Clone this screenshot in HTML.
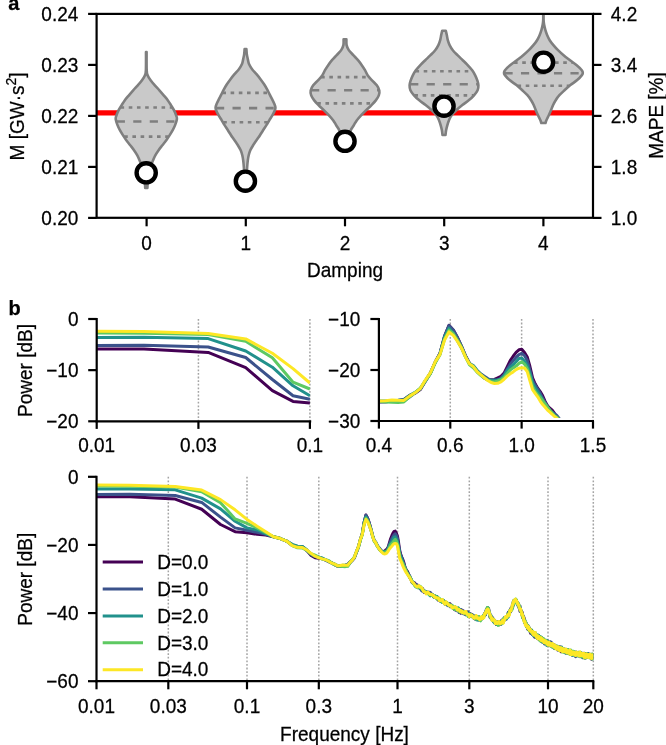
<!DOCTYPE html><html><head><meta charset="utf-8"><style>html,body{margin:0;padding:0;background:#fff;width:666px;height:745px;overflow:hidden}svg{display:block;will-change:transform}text{stroke:#000;stroke-width:0.25px;paint-order:stroke}</style></head><body><svg width="666" height="745" viewBox="0 0 666 745" font-family='"Liberation Sans", sans-serif' fill="#000"><defs><clipPath id="clipA"><rect x="96.6" y="13.9" width="496.4" height="203.9"/></clipPath></defs>
<line x1="96.6" y1="112.9" x2="593" y2="112.9" stroke="#ff0000" stroke-width="5.3"/>
<g clip-path="url(#clipA)">
<path d="M146.6,52 C146.62,55 146.53,66.13 146.7,70 C146.87,73.87 146.95,73.5 147.6,75.2 C148.25,76.9 149.4,78.52 150.6,80.2 C151.8,81.88 153.33,83.62 154.8,85.3 C156.27,86.98 157.92,88.63 159.4,90.3 C160.88,91.97 162.28,93.62 163.7,95.3 C165.12,96.98 166.67,98.72 167.9,100.4 C169.13,102.08 170.07,103.73 171.1,105.4 C172.13,107.07 173.25,108.72 174.1,110.4 C174.95,112.08 175.73,114.07 176.2,115.5 C176.67,116.93 177.08,117.4 176.9,119 C176.72,120.6 175.8,123.25 175.1,125.1 C174.4,126.95 173.6,128.43 172.7,130.1 C171.8,131.77 170.77,133.42 169.7,135.1 C168.63,136.78 167.52,138.52 166.3,140.2 C165.08,141.88 163.68,143.53 162.4,145.2 C161.12,146.87 159.78,148.52 158.6,150.2 C157.42,151.88 156.22,153.62 155.3,155.3 C154.38,156.98 153.88,158.52 153.1,160.3 C152.32,162.08 151.3,164.05 150.6,166 C149.9,167.95 149.37,169.67 148.9,172 C148.43,174.33 148.05,177.33 147.8,180 C147.55,182.67 147.47,186.67 147.4,188 L145.2,188 C145.13,186.67 145.05,182.67 144.8,180 C144.55,177.33 144.17,174.33 143.7,172 C143.23,169.67 142.7,167.95 142,166 C141.3,164.05 140.28,162.08 139.5,160.3 C138.72,158.52 138.22,156.98 137.3,155.3 C136.38,153.62 135.18,151.88 134,150.2 C132.82,148.52 131.48,146.87 130.2,145.2 C128.92,143.53 127.52,141.88 126.3,140.2 C125.08,138.52 123.97,136.78 122.9,135.1 C121.83,133.42 120.8,131.77 119.9,130.1 C119,128.43 118.2,126.95 117.5,125.1 C116.8,123.25 115.88,120.6 115.7,119 C115.52,117.4 115.93,116.93 116.4,115.5 C116.87,114.07 117.65,112.08 118.5,110.4 C119.35,108.72 120.47,107.07 121.5,105.4 C122.53,103.73 123.47,102.08 124.7,100.4 C125.93,98.72 127.48,96.98 128.9,95.3 C130.32,93.62 131.72,91.97 133.2,90.3 C134.68,88.63 136.33,86.98 137.8,85.3 C139.27,83.62 140.8,81.88 142,80.2 C143.2,78.52 144.35,76.9 145,75.2 C145.65,73.5 145.73,73.87 145.9,70 C146.07,66.13 145.98,55 146,52 Z" fill="#c9c9c9" stroke="#7f7f7f" stroke-width="2.6" stroke-linejoin="round"/>
<line x1="120.54" y1="107.5" x2="172.06" y2="107.5" stroke="#7f7f7f" stroke-width="2.6" stroke-dasharray="3.6 4.6"/>
<line x1="116.74" y1="121.5" x2="175.86" y2="121.5" stroke="#7f7f7f" stroke-width="2.6" stroke-dasharray="8.2 8.3"/>
<line x1="124.2" y1="136.6" x2="168.4" y2="136.6" stroke="#7f7f7f" stroke-width="2.6" stroke-dasharray="3.6 4.6"/>
<path d="M246.4,49 C246.47,49.85 246.57,52.42 246.8,54.1 C247.03,55.78 247.43,57.43 247.8,59.1 C248.17,60.77 248.28,62.42 249,64.1 C249.72,65.78 250.85,67.52 252.1,69.2 C253.35,70.88 255.1,72.53 256.5,74.2 C257.9,75.87 259.23,77.52 260.5,79.2 C261.77,80.88 263,82.62 264.1,84.3 C265.2,85.98 266.18,87.63 267.1,89.3 C268.02,90.97 268.75,92.62 269.6,94.3 C270.45,95.98 271.37,97.72 272.2,99.4 C273.03,101.08 274.07,103.07 274.6,104.4 C275.13,105.73 275.33,106.47 275.4,107.4 C275.47,108.33 275.48,108.72 275,110 C274.52,111.28 273.43,113.42 272.5,115.1 C271.57,116.78 270.42,118.43 269.4,120.1 C268.38,121.77 267.45,123.42 266.4,125.1 C265.35,126.78 264.17,128.52 263.1,130.2 C262.03,131.88 260.83,133.9 260,135.2 C259.17,136.5 258.68,137.17 258.1,138 C257.52,138.83 257.33,138.98 256.5,140.2 C255.67,141.42 254.13,143.62 253.1,145.3 C252.07,146.98 251.03,148.63 250.3,150.3 C249.57,151.97 249.12,153.62 248.7,155.3 C248.28,156.98 248.07,158.28 247.8,160.4 C247.53,162.52 247.28,165.07 247.1,168 C246.92,170.93 246.77,176.33 246.7,178 L244.3,178 C244.23,176.33 244.08,170.93 243.9,168 C243.72,165.07 243.47,162.52 243.2,160.4 C242.93,158.28 242.72,156.98 242.3,155.3 C241.88,153.62 241.43,151.97 240.7,150.3 C239.97,148.63 238.93,146.98 237.9,145.3 C236.87,143.62 235.33,141.42 234.5,140.2 C233.67,138.98 233.48,138.83 232.9,138 C232.32,137.17 231.83,136.5 231,135.2 C230.17,133.9 228.97,131.88 227.9,130.2 C226.83,128.52 225.65,126.78 224.6,125.1 C223.55,123.42 222.62,121.77 221.6,120.1 C220.58,118.43 219.43,116.78 218.5,115.1 C217.57,113.42 216.48,111.28 216,110 C215.52,108.72 215.53,108.33 215.6,107.4 C215.67,106.47 215.87,105.73 216.4,104.4 C216.93,103.07 217.97,101.08 218.8,99.4 C219.63,97.72 220.55,95.98 221.4,94.3 C222.25,92.62 222.98,90.97 223.9,89.3 C224.82,87.63 225.8,85.98 226.9,84.3 C228,82.62 229.23,80.88 230.5,79.2 C231.77,77.52 233.1,75.87 234.5,74.2 C235.9,72.53 237.65,70.88 238.9,69.2 C240.15,67.52 241.28,65.78 242,64.1 C242.72,62.42 242.83,60.77 243.2,59.1 C243.57,57.43 243.97,55.78 244.2,54.1 C244.43,52.42 244.53,49.85 244.6,49 Z" fill="#c9c9c9" stroke="#7f7f7f" stroke-width="2.6" stroke-linejoin="round"/>
<line x1="222.4" y1="92.9" x2="268.6" y2="92.9" stroke="#7f7f7f" stroke-width="2.6" stroke-dasharray="3.6 4.6"/>
<line x1="216.01" y1="108.1" x2="274.99" y2="108.1" stroke="#7f7f7f" stroke-width="2.6" stroke-dasharray="8.2 8.3"/>
<line x1="223.22" y1="122.3" x2="267.78" y2="122.3" stroke="#7f7f7f" stroke-width="2.6" stroke-dasharray="3.6 4.6"/>
<path d="M346.4,39.3 C346.43,40.27 346.2,43.3 346.6,45.1 C347,46.9 347.68,48.43 348.8,50.1 C349.92,51.77 351.77,53.42 353.3,55.1 C354.83,56.78 356.58,58.52 358,60.2 C359.42,61.88 360.63,63.53 361.8,65.2 C362.97,66.87 364.03,68.52 365,70.2 C365.97,71.88 366.43,73.62 367.6,75.3 C368.77,76.98 370.47,78.63 372,80.3 C373.53,81.97 375.58,83.62 376.8,85.3 C378.02,86.98 378.97,88.72 379.3,90.4 C379.63,92.08 379.38,93.73 378.8,95.4 C378.22,97.07 377.05,98.75 375.8,100.4 C374.55,102.05 372.9,103.68 371.3,105.3 C369.7,106.92 367.87,108.47 366.2,110.1 C364.53,111.73 362.85,113.42 361.3,115.1 C359.75,116.78 358.15,118.52 356.9,120.2 C355.65,121.88 354.62,123.9 353.8,125.2 C352.98,126.5 352.5,127.17 352,128 C351.5,128.83 351.37,128.87 350.8,130.2 C350.23,131.53 349.17,134.03 348.6,136 C348.03,137.97 347.6,141 347.4,142 L342.6,142 C342.4,141 341.97,137.97 341.4,136 C340.83,134.03 339.77,131.53 339.2,130.2 C338.63,128.87 338.5,128.83 338,128 C337.5,127.17 337.02,126.5 336.2,125.2 C335.38,123.9 334.35,121.88 333.1,120.2 C331.85,118.52 330.25,116.78 328.7,115.1 C327.15,113.42 325.47,111.73 323.8,110.1 C322.13,108.47 320.3,106.92 318.7,105.3 C317.1,103.68 315.45,102.05 314.2,100.4 C312.95,98.75 311.78,97.07 311.2,95.4 C310.62,93.73 310.37,92.08 310.7,90.4 C311.03,88.72 311.98,86.98 313.2,85.3 C314.42,83.62 316.47,81.97 318,80.3 C319.53,78.63 321.23,76.98 322.4,75.3 C323.57,73.62 324.03,71.88 325,70.2 C325.97,68.52 327.03,66.87 328.2,65.2 C329.37,63.53 330.58,61.88 332,60.2 C333.42,58.52 335.17,56.78 336.7,55.1 C338.23,53.42 340.08,51.77 341.2,50.1 C342.32,48.43 343,46.9 343.4,45.1 C343.8,43.3 343.57,40.27 343.6,39.3 Z" fill="#c9c9c9" stroke="#7f7f7f" stroke-width="2.6" stroke-linejoin="round"/>
<line x1="321.12" y1="77.1" x2="368.88" y2="77.1" stroke="#7f7f7f" stroke-width="2.6" stroke-dasharray="3.6 4.6"/>
<line x1="311.05" y1="90.3" x2="378.95" y2="90.3" stroke="#7f7f7f" stroke-width="2.6" stroke-dasharray="8.2 8.3"/>
<line x1="317.26" y1="103.4" x2="372.74" y2="103.4" stroke="#7f7f7f" stroke-width="2.6" stroke-dasharray="3.6 4.6"/>
<path d="M445.8,30.8 C445.97,31.52 446.47,33.55 446.8,35.1 C447.13,36.65 447.33,38.43 447.8,40.1 C448.27,41.77 448.77,43.42 449.6,45.1 C450.43,46.78 451.48,48.52 452.8,50.2 C454.12,51.88 455.85,53.53 457.5,55.2 C459.15,56.87 461.08,58.63 462.7,60.2 C464.32,61.77 465.62,62.92 467.2,64.6 C468.78,66.28 470.87,68.52 472.2,70.3 C473.53,72.08 474.35,73.62 475.2,75.3 C476.05,76.98 476.77,78.75 477.3,80.4 C477.83,82.05 478.35,83.57 478.4,85.2 C478.45,86.83 478.33,88.52 477.6,90.2 C476.87,91.88 475.43,93.65 474,95.3 C472.57,96.95 470.93,98.47 469,100.1 C467.07,101.73 464.52,103.42 462.4,105.1 C460.28,106.78 458.1,108.52 456.3,110.2 C454.5,111.88 452.82,113.53 451.6,115.2 C450.38,116.87 449.72,118.52 449,120.2 C448.28,121.88 447.78,123.62 447.3,125.3 C446.82,126.98 446.4,128.68 446.1,130.3 C445.8,131.92 445.6,134.22 445.5,135 L442.5,135 C442.4,134.22 442.2,131.92 441.9,130.3 C441.6,128.68 441.18,126.98 440.7,125.3 C440.22,123.62 439.72,121.88 439,120.2 C438.28,118.52 437.62,116.87 436.4,115.2 C435.18,113.53 433.5,111.88 431.7,110.2 C429.9,108.52 427.72,106.78 425.6,105.1 C423.48,103.42 420.93,101.73 419,100.1 C417.07,98.47 415.43,96.95 414,95.3 C412.57,93.65 411.13,91.88 410.4,90.2 C409.67,88.52 409.55,86.83 409.6,85.2 C409.65,83.57 410.17,82.05 410.7,80.4 C411.23,78.75 411.95,76.98 412.8,75.3 C413.65,73.62 414.47,72.08 415.8,70.3 C417.13,68.52 419.22,66.28 420.8,64.6 C422.38,62.92 423.68,61.77 425.3,60.2 C426.92,58.63 428.85,56.87 430.5,55.2 C432.15,53.53 433.88,51.88 435.2,50.2 C436.52,48.52 437.57,46.78 438.4,45.1 C439.23,43.42 439.73,41.77 440.2,40.1 C440.67,38.43 440.87,36.65 441.2,35.1 C441.53,33.55 442.03,31.52 442.2,30.8 Z" fill="#c9c9c9" stroke="#7f7f7f" stroke-width="2.6" stroke-linejoin="round"/>
<line x1="415.5" y1="71.3" x2="472.5" y2="71.3" stroke="#7f7f7f" stroke-width="2.6" stroke-dasharray="3.6 4.6"/>
<line x1="410.13" y1="84.2" x2="477.87" y2="84.2" stroke="#7f7f7f" stroke-width="2.6" stroke-dasharray="8.2 8.3"/>
<line x1="414.4" y1="95.4" x2="473.6" y2="95.4" stroke="#7f7f7f" stroke-width="2.6" stroke-dasharray="3.6 4.6"/>
<path d="M543.6,10 C543.6,11.68 543.5,17.58 543.6,20.1 C543.7,22.62 543.9,23.43 544.2,25.1 C544.5,26.77 544.9,28.42 545.4,30.1 C545.9,31.78 546.48,33.52 547.2,35.2 C547.92,36.88 548.67,38.53 549.7,40.2 C550.73,41.87 552.02,43.53 553.4,45.2 C554.78,46.87 556.3,48.52 558,50.2 C559.7,51.88 561.6,53.62 563.6,55.3 C565.6,56.98 567.82,58.63 570,60.3 C572.18,61.97 574.73,63.65 576.7,65.3 C578.67,66.95 580.78,68.93 581.8,70.2 C582.82,71.47 582.78,72.08 582.8,72.9 C582.82,73.72 582.83,73.9 581.9,75.1 C580.97,76.3 579.12,78.43 577.2,80.1 C575.28,81.77 572.5,83.42 570.4,85.1 C568.3,86.78 566.43,88.52 564.6,90.2 C562.77,91.88 560.88,93.53 559.4,95.2 C557.92,96.87 556.77,98.53 555.7,100.2 C554.63,101.87 553.78,103.52 553,105.2 C552.22,106.88 551.7,108.62 551,110.3 C550.3,111.98 549.57,113.63 548.8,115.3 C548.03,116.97 546.95,119.02 546.4,120.3 C545.85,121.58 545.65,122.55 545.5,123 L541.3,123 C541.15,122.55 540.95,121.58 540.4,120.3 C539.85,119.02 538.77,116.97 538,115.3 C537.23,113.63 536.5,111.98 535.8,110.3 C535.1,108.62 534.58,106.88 533.8,105.2 C533.02,103.52 532.17,101.87 531.1,100.2 C530.03,98.53 528.88,96.87 527.4,95.2 C525.92,93.53 524.03,91.88 522.2,90.2 C520.37,88.52 518.5,86.78 516.4,85.1 C514.3,83.42 511.52,81.77 509.6,80.1 C507.68,78.43 505.83,76.3 504.9,75.1 C503.97,73.9 503.98,73.72 504,72.9 C504.02,72.08 503.98,71.47 505,70.2 C506.02,68.93 508.13,66.95 510.1,65.3 C512.07,63.65 514.62,61.97 516.8,60.3 C518.98,58.63 521.2,56.98 523.2,55.3 C525.2,53.62 527.1,51.88 528.8,50.2 C530.5,48.52 532.02,46.87 533.4,45.2 C534.78,43.53 536.07,41.87 537.1,40.2 C538.13,38.53 538.88,36.88 539.6,35.2 C540.32,33.52 540.9,31.78 541.4,30.1 C541.9,28.42 542.3,26.77 542.6,25.1 C542.9,23.43 543.1,22.62 543.2,20.1 C543.3,17.58 543.2,11.68 543.2,10 Z" fill="#c9c9c9" stroke="#7f7f7f" stroke-width="2.6" stroke-linejoin="round"/>
<line x1="514.02" y1="62.6" x2="572.78" y2="62.6" stroke="#7f7f7f" stroke-width="2.6" stroke-dasharray="3.6 4.6"/>
<line x1="504.46" y1="73.3" x2="582.34" y2="73.3" stroke="#7f7f7f" stroke-width="2.6" stroke-dasharray="8.2 8.3"/>
<line x1="517.5" y1="85.8" x2="569.3" y2="85.8" stroke="#7f7f7f" stroke-width="2.6" stroke-dasharray="3.6 4.6"/>
</g>
<circle cx="146.2" cy="172.8" r="9.6" fill="#fff" stroke="#000" stroke-width="4.4"/>
<circle cx="245.4" cy="181.2" r="9.6" fill="#fff" stroke="#000" stroke-width="4.4"/>
<circle cx="345" cy="141.3" r="9.6" fill="#fff" stroke="#000" stroke-width="4.4"/>
<circle cx="444" cy="106.2" r="9.6" fill="#fff" stroke="#000" stroke-width="4.4"/>
<circle cx="543.5" cy="62.2" r="9.6" fill="#fff" stroke="#000" stroke-width="4.4"/>
<rect x="96.6" y="13.9" width="496.4" height="203.9" fill="none" stroke="#000" stroke-width="2.2"/>
<line x1="88.1" y1="13.9" x2="96.6" y2="13.9" stroke="#000" stroke-width="2.2"/>
<line x1="593" y1="13.9" x2="601.5" y2="13.9" stroke="#000" stroke-width="2.2"/>
<text x="0" y="0" text-anchor="end" font-size="19" font-weight="normal" transform="translate(78.3 20.7) scale(1.0 1.02)">0.24</text>
<text x="0" y="0" text-anchor="start" font-size="19" font-weight="normal" transform="translate(610.8 20.7) scale(1.0 1.02)">4.2</text>
<line x1="88.1" y1="64.9" x2="96.6" y2="64.9" stroke="#000" stroke-width="2.2"/>
<line x1="593" y1="64.9" x2="601.5" y2="64.9" stroke="#000" stroke-width="2.2"/>
<text x="0" y="0" text-anchor="end" font-size="19" font-weight="normal" transform="translate(78.3 71.7) scale(1.0 1.02)">0.23</text>
<text x="0" y="0" text-anchor="start" font-size="19" font-weight="normal" transform="translate(610.8 71.7) scale(1.0 1.02)">3.4</text>
<line x1="88.1" y1="115.9" x2="96.6" y2="115.9" stroke="#000" stroke-width="2.2"/>
<line x1="593" y1="115.9" x2="601.5" y2="115.9" stroke="#000" stroke-width="2.2"/>
<text x="0" y="0" text-anchor="end" font-size="19" font-weight="normal" transform="translate(78.3 122.7) scale(1.0 1.02)">0.22</text>
<text x="0" y="0" text-anchor="start" font-size="19" font-weight="normal" transform="translate(610.8 122.7) scale(1.0 1.02)">2.6</text>
<line x1="88.1" y1="166.9" x2="96.6" y2="166.9" stroke="#000" stroke-width="2.2"/>
<line x1="593" y1="166.9" x2="601.5" y2="166.9" stroke="#000" stroke-width="2.2"/>
<text x="0" y="0" text-anchor="end" font-size="19" font-weight="normal" transform="translate(78.3 173.7) scale(1.0 1.02)">0.21</text>
<text x="0" y="0" text-anchor="start" font-size="19" font-weight="normal" transform="translate(610.8 173.7) scale(1.0 1.02)">1.8</text>
<line x1="88.1" y1="217.9" x2="96.6" y2="217.9" stroke="#000" stroke-width="2.2"/>
<line x1="593" y1="217.9" x2="601.5" y2="217.9" stroke="#000" stroke-width="2.2"/>
<text x="0" y="0" text-anchor="end" font-size="19" font-weight="normal" transform="translate(78.3 224.7) scale(1.0 1.02)">0.20</text>
<text x="0" y="0" text-anchor="start" font-size="19" font-weight="normal" transform="translate(610.8 224.7) scale(1.0 1.02)">1.0</text>
<line x1="146.6" y1="217.8" x2="146.6" y2="226.3" stroke="#000" stroke-width="2.2"/>
<text x="0" y="0" text-anchor="middle" font-size="19" font-weight="normal" transform="translate(146.6 249.6) scale(1.0 1.02)">0</text>
<line x1="245.8" y1="217.8" x2="245.8" y2="226.3" stroke="#000" stroke-width="2.2"/>
<text x="0" y="0" text-anchor="middle" font-size="19" font-weight="normal" transform="translate(245.8 249.6) scale(1.0 1.02)">1</text>
<line x1="345" y1="217.8" x2="345" y2="226.3" stroke="#000" stroke-width="2.2"/>
<text x="0" y="0" text-anchor="middle" font-size="19" font-weight="normal" transform="translate(345 249.6) scale(1.0 1.02)">2</text>
<line x1="444.2" y1="217.8" x2="444.2" y2="226.3" stroke="#000" stroke-width="2.2"/>
<text x="0" y="0" text-anchor="middle" font-size="19" font-weight="normal" transform="translate(444.2 249.6) scale(1.0 1.02)">3</text>
<line x1="543.4" y1="217.8" x2="543.4" y2="226.3" stroke="#000" stroke-width="2.2"/>
<text x="0" y="0" text-anchor="middle" font-size="19" font-weight="normal" transform="translate(543.4 249.6) scale(1.0 1.02)">4</text>
<text x="0" y="0" text-anchor="middle" font-size="19" font-weight="normal" transform="translate(345 277.4) scale(1.0 1.02)">Damping</text>
<text x="0" y="0" text-anchor="middle" font-size="19" font-weight="normal" transform="translate(23.6 116.4) rotate(-90) scale(1.0 1.02)">M [GW·s<tspan dy="-7.5" font-size="14">2</tspan><tspan dy="7.5">]</tspan></text>
<text x="0" y="0" text-anchor="middle" font-size="19" font-weight="normal" transform="translate(662.5 115.5) rotate(-90) scale(1.0 1.02)">MAPE [%]</text>
<text x="0" y="0" text-anchor="start" font-size="20" font-weight="bold" transform="translate(8.2 10)">a</text>
<text x="0" y="0" text-anchor="start" font-size="20" font-weight="bold" transform="translate(8.4 315.2)">b</text>
<defs><clipPath id="clipB1"><rect x="96.7" y="316" width="213.5" height="105.30000000000001"/></clipPath>
<clipPath id="clipB2"><rect x="378.9" y="316" width="214.10000000000002" height="102"/></clipPath>
<clipPath id="clipB3"><rect x="96.5" y="473.8" width="496.79999999999995" height="207.40000000000003"/></clipPath></defs>
<line x1="198.42" y1="319" x2="198.42" y2="421.3" stroke="#a4a4a4" stroke-width="1.5" stroke-dasharray="1.8 1.8"/>
<line x1="309.9" y1="319" x2="309.9" y2="421.3" stroke="#a4a4a4" stroke-width="1.5" stroke-dasharray="1.8 1.8"/>
<g clip-path="url(#clipB1)" fill="none" stroke-width="3" stroke-linejoin="round">
<polyline points="96.7,349.1 144,348.9 208.18,352.4 245.72,367.7 272.36,390.6 293.02,401.4 309.9,402.9" stroke="#440154"/>
<polyline points="96.7,345.5 144,345.3 208.18,347 245.72,357.5 272.36,379.5 293.02,395.7 309.9,399.3" stroke="#3b528b"/>
<polyline points="96.7,337.4 144,337.2 208.18,338.6 245.72,351 272.36,367.2 293.02,385.8 309.9,395.7" stroke="#21918c"/>
<polyline points="96.7,333 144,333.2 208.18,334.5 245.72,341.3 272.36,357.8 293.02,382.2 309.9,389" stroke="#5ec962"/>
<polyline points="96.7,331.3 144,331.6 208.18,333.5 245.72,338.9 272.36,353.3 293.02,368.6 309.9,383" stroke="#fde725"/>
</g>
<line x1="96.7" y1="318" x2="96.7" y2="422.3" stroke="#000" stroke-width="2.2"/>
<line x1="95.7" y1="421.3" x2="311.2" y2="421.3" stroke="#000" stroke-width="2.2"/>
<line x1="88.2" y1="319" x2="96.7" y2="319" stroke="#000" stroke-width="2.2"/>
<text x="0" y="0" text-anchor="end" font-size="19" font-weight="normal" transform="translate(78.5 325.8) scale(1.0 1.02)">0</text>
<line x1="88.2" y1="370.15" x2="96.7" y2="370.15" stroke="#000" stroke-width="2.2"/>
<text x="0" y="0" text-anchor="end" font-size="19" font-weight="normal" transform="translate(78.5 376.95) scale(1.0 1.02)">−10</text>
<line x1="88.2" y1="421.3" x2="96.7" y2="421.3" stroke="#000" stroke-width="2.2"/>
<text x="0" y="0" text-anchor="end" font-size="19" font-weight="normal" transform="translate(78.5 428.1) scale(1.0 1.02)">−20</text>
<line x1="96.7" y1="421.3" x2="96.7" y2="428.9" stroke="#000" stroke-width="2.2"/>
<text x="0" y="0" text-anchor="middle" font-size="19" font-weight="normal" transform="translate(96.7 452.3) scale(1.0 1.02)">0.01</text>
<line x1="198.42" y1="421.3" x2="198.42" y2="428.9" stroke="#000" stroke-width="2.2"/>
<text x="0" y="0" text-anchor="middle" font-size="19" font-weight="normal" transform="translate(198.42 452.3) scale(1.0 1.02)">0.03</text>
<line x1="309.9" y1="421.3" x2="309.9" y2="428.9" stroke="#000" stroke-width="2.2"/>
<text x="0" y="0" text-anchor="middle" font-size="19" font-weight="normal" transform="translate(309.9 452.3) scale(1.0 1.02)">0.1</text>
<text x="0" y="0" text-anchor="middle" font-size="19" font-weight="normal" transform="translate(31.8 370.5) rotate(-90) scale(1.0 1.02)">Power [dB]</text>
<line x1="450.27" y1="319" x2="450.27" y2="421" stroke="#a4a4a4" stroke-width="1.5" stroke-dasharray="1.8 1.8"/>
<line x1="521.63" y1="319" x2="521.63" y2="421" stroke="#a4a4a4" stroke-width="1.5" stroke-dasharray="1.8 1.8"/>
<line x1="593" y1="319" x2="593" y2="421" stroke="#a4a4a4" stroke-width="1.5" stroke-dasharray="1.8 1.8"/>
<g clip-path="url(#clipB2)" fill="none" stroke-width="3" stroke-linejoin="round">
<polyline points="364.81,397.21 372.01,399.77 378.9,401.71 385.51,401.65 391.86,401.18 397.97,400.37 403.86,399.41 409.54,395.46 415.03,393.17 420.34,389.58 425.48,380.76 430.46,372.9 435.29,362 439.99,353.26 444.55,336.05 448.98,325.29 453.3,329.93 457.51,337.6 461.61,346.57 465.6,356.08 469.5,363.27 473.31,366.83 477.04,371.27 480.67,374.43 484.23,377.95 487.72,379.67 491.12,379.8 494.46,379.39 497.73,377.96 500.94,376.33 504.08,373.18 507.17,366.85 510.19,360.68 513.16,356.23 516.08,352.4 518.95,349.81 521.76,349.3 524.53,352.44 527.25,357 529.93,366.49 532.56,377.77 535.15,383.84 537.7,388.22 540.21,391.56 542.68,395.86 545.12,401.42 547.52,405.8 549.88,408.28 552.21,410.16 554.51,413.44 556.77,417.63 559,420.4 561.21,422.11 563.38,425.32 565.52,427.45 567.64,426.35 569.73,426.74 571.79,428.63 573.83,429.92 575.84,430.02 577.83,430.16 579.79,431.58 581.73,433.11 583.64,435.08 585.54,436.6 587.41,435.62 589.26,435.4 591.09,438.07 592.9,440.94 594.69,440.71 596.46,440.47 598.21,442.27 599.94,441.91 601.65,441.6 603.35,442.47 605.03,441.73 606.69,442.24 608.33,443.86 609.96,444.1 611.57,444.31 613.16,444.69" stroke="#440154"/>
<polyline points="364.81,397.32 372.01,399.64 378.9,401.89 385.51,401.8 391.86,401.18 397.97,400.99 403.86,401.03 409.54,397.11 415.03,393.07 420.34,389.1 425.48,381.25 430.46,373.2 435.29,361.82 439.99,353.39 444.55,336.38 448.98,325.62 453.3,330 457.51,337.55 461.61,346.27 465.6,356.17 469.5,363.62 473.31,366.6 477.04,370.8 480.67,373.6 484.23,376.14 487.72,378.6 491.12,380.6 494.46,381.21 497.73,380.09 500.94,378.12 504.08,374.79 507.17,369.3 510.19,364.31 513.16,360.81 516.08,357.38 518.95,354.61 521.76,353.36 524.53,355.61 527.25,360.48 529.93,370.31 532.56,380.59 535.15,385.12 537.7,388.97 540.21,393.35 542.68,398.35 545.12,402.47 547.52,406.29 549.88,410.24 552.21,412.37 554.51,413.77 556.77,415.53 559,418.29 561.21,422.24 563.38,426.13 565.52,426.32 567.64,426.19 569.73,428.65 571.79,430.5 573.83,430.02 575.84,429.97 577.83,431.71 579.79,433.45 581.73,433.8 583.64,434.4 585.54,437.06 587.41,438.76 589.26,437.77 591.09,437.4 592.9,438.02 594.69,438.78 596.46,440.25 598.21,441.25 599.94,441.36 601.65,440.59 603.35,440.59 605.03,441.36 606.69,440.73 608.33,441 609.96,442.73 611.57,443.25 613.16,443.67" stroke="#3b528b"/>
<polyline points="364.81,397.04 372.01,398.86 378.9,400.96 385.51,401.03 391.86,400.5 397.97,400.14 403.86,399.62 409.54,395.58 415.03,392.37 420.34,388.51 425.48,380.42 430.46,372.97 435.29,362.37 439.99,353.85 444.55,336.89 448.98,328.08 453.3,333.55 457.51,340.88 461.61,348.25 465.6,357.09 469.5,363.48 473.31,365.53 477.04,370.28 480.67,374.16 484.23,377.45 487.72,379.71 491.12,380.32 494.46,379.88 497.73,379.82 500.94,379.16 504.08,375.74 507.17,370.68 510.19,367.2 513.16,364.95 516.08,361.63 518.95,358.56 521.76,357.97 524.53,361.13 527.25,365.55 529.93,373.49 532.56,383.04 535.15,387.77 537.7,391.64 540.21,395.84 542.68,400.3 545.12,403.89 547.52,407.26 549.88,410.41 552.21,412.43 554.51,415.43 556.77,418.12 559,419.77 561.21,421.8 563.38,423.94 565.52,426.99 567.64,428.29 569.73,429.43 571.79,431.77 573.83,433.12 575.84,431.8 577.83,431.68 579.79,433.44 581.73,434.73 583.64,435.18 585.54,435.82 587.41,436.18 589.26,437.18 591.09,439.17 592.9,439.94 594.69,440.55 596.46,440.16 598.21,439.86 599.94,441.69 601.65,442.85 603.35,442.65 605.03,442.88 606.69,445 608.33,446.14 609.96,445.23 611.57,445.51 613.16,445.73" stroke="#21918c"/>
<polyline points="364.81,397.31 372.01,399.83 378.9,401.55 385.51,401.99 391.86,402.22 397.97,402.5 403.86,401.95 409.54,396.94 415.03,392.56 420.34,388.2 425.48,380.62 430.46,373.7 435.29,362.63 439.99,354.67 444.55,339.14 448.98,330.15 453.3,333.47 457.51,339.96 461.61,347.56 465.6,357.01 469.5,364.75 473.31,367.74 477.04,372.11 480.67,375.4 484.23,378.16 487.72,380.03 491.12,381.46 494.46,381.91 497.73,380.97 500.94,379.6 504.08,377.39 507.17,373.59 510.19,369.94 513.16,367.86 516.08,366.08 518.95,363.4 521.76,361.73 524.53,364.11 527.25,368.79 529.93,376.8 532.56,386.3 535.15,391.47 537.7,394.68 540.21,397.31 542.68,400.51 545.12,403.88 547.52,407.18 549.88,410.16 552.21,413.16 554.51,415.66 556.77,417.04 559,419.15 561.21,421.87 563.38,424.39 565.52,427.27 567.64,428.54 569.73,430.63 571.79,432.14 573.83,432.59 575.84,433.39 577.83,434.31 579.79,434.09 581.73,432.96 583.64,431.85 585.54,432.93 587.41,435.28 589.26,436.61 591.09,437.66 592.9,438.49 594.69,439.53 596.46,440.61 598.21,441.66 599.94,442.58 601.65,442.36 603.35,443.12 605.03,444.53 606.69,444.27 608.33,444.13 609.96,444.89 611.57,444.81 613.16,444.11" stroke="#5ec962"/>
<polyline points="364.81,397.33 372.01,398.73 378.9,401.11 385.51,400.81 391.86,400.06 397.97,400.31 403.86,400.41 409.54,396.14 415.03,392.82 420.34,388.57 425.48,379.83 430.46,372.64 435.29,361.68 439.99,354.36 444.55,339.94 448.98,331.93 453.3,335.35 457.51,341.51 461.61,348.32 465.6,357.19 469.5,363.89 473.31,366.53 477.04,371.51 480.67,374.7 484.23,377.67 487.72,380.49 491.12,382.51 494.46,383.44 497.73,383.33 500.94,381.99 504.08,379.25 507.17,376.15 510.19,373.85 513.16,371.92 516.08,369.63 518.95,368.21 521.76,367.66 524.53,368 527.25,371.69 529.93,380.7 532.56,389.65 535.15,393.31 537.7,396.82 540.21,401.1 542.68,404.52 545.12,407.25 547.52,410.1 549.88,412.23 552.21,414.26 554.51,416.36 556.77,418.33 559,420.82 561.21,423.27 563.38,425.12 565.52,426.26 567.64,427.59 569.73,429.41 571.79,430.86 573.83,432.19 575.84,432.84 577.83,431.99 579.79,430.88 581.73,431.99 583.64,433.36 585.54,433.44 587.41,434.57 589.26,436.72 591.09,438.75 592.9,439.9 594.69,439.91 596.46,441.11 598.21,443.24 599.94,442.48 601.65,440.39 603.35,440.94 605.03,442.29 606.69,443.38 608.33,444.31 609.96,443.89 611.57,444.01 613.16,445.26" stroke="#fde725"/>
</g>
<line x1="378.9" y1="318" x2="378.9" y2="422" stroke="#000" stroke-width="2.2"/>
<line x1="377.9" y1="421" x2="594" y2="421" stroke="#000" stroke-width="2.2"/>
<line x1="370.4" y1="319" x2="378.9" y2="319" stroke="#000" stroke-width="2.2"/>
<text x="0" y="0" text-anchor="end" font-size="19" font-weight="normal" transform="translate(360.3 325.8) scale(1.0 1.02)">−10</text>
<line x1="370.4" y1="370" x2="378.9" y2="370" stroke="#000" stroke-width="2.2"/>
<text x="0" y="0" text-anchor="end" font-size="19" font-weight="normal" transform="translate(360.3 376.8) scale(1.0 1.02)">−20</text>
<line x1="370.4" y1="421" x2="378.9" y2="421" stroke="#000" stroke-width="2.2"/>
<text x="0" y="0" text-anchor="end" font-size="19" font-weight="normal" transform="translate(360.3 427.8) scale(1.0 1.02)">−30</text>
<line x1="378.9" y1="421" x2="378.9" y2="428.6" stroke="#000" stroke-width="2.2"/>
<text x="0" y="0" text-anchor="middle" font-size="19" font-weight="normal" transform="translate(378.9 452.3) scale(1.0 1.02)">0.4</text>
<line x1="450.27" y1="421" x2="450.27" y2="428.6" stroke="#000" stroke-width="2.2"/>
<text x="0" y="0" text-anchor="middle" font-size="19" font-weight="normal" transform="translate(450.27 452.3) scale(1.0 1.02)">0.6</text>
<line x1="521.63" y1="421" x2="521.63" y2="428.6" stroke="#000" stroke-width="2.2"/>
<text x="0" y="0" text-anchor="middle" font-size="19" font-weight="normal" transform="translate(521.63 452.3) scale(1.0 1.02)">1.0</text>
<line x1="593" y1="421" x2="593" y2="428.6" stroke="#000" stroke-width="2.2"/>
<text x="0" y="0" text-anchor="middle" font-size="19" font-weight="normal" transform="translate(593 452.3) scale(1.0 1.02)">1.5</text>
<line x1="168.31" y1="476.8" x2="168.31" y2="681.2" stroke="#a4a4a4" stroke-width="1.5" stroke-dasharray="1.8 1.8"/>
<line x1="247" y1="476.8" x2="247" y2="681.2" stroke="#a4a4a4" stroke-width="1.5" stroke-dasharray="1.8 1.8"/>
<line x1="318.81" y1="476.8" x2="318.81" y2="681.2" stroke="#a4a4a4" stroke-width="1.5" stroke-dasharray="1.8 1.8"/>
<line x1="397.5" y1="476.8" x2="397.5" y2="681.2" stroke="#a4a4a4" stroke-width="1.5" stroke-dasharray="1.8 1.8"/>
<line x1="469.31" y1="476.8" x2="469.31" y2="681.2" stroke="#a4a4a4" stroke-width="1.5" stroke-dasharray="1.8 1.8"/>
<line x1="548" y1="476.8" x2="548" y2="681.2" stroke="#a4a4a4" stroke-width="1.5" stroke-dasharray="1.8 1.8"/>
<line x1="593.31" y1="476.8" x2="593.31" y2="681.2" stroke="#a4a4a4" stroke-width="1.5" stroke-dasharray="1.8 1.8"/>
<g clip-path="url(#clipB3)" fill="none" stroke-width="3" stroke-linejoin="round">
<polyline points="96.5,496.85 129.89,496.71 175.19,499.05 201.69,509.24 220.5,524.49 235.08,531.68 247,532.68 257.08,534.37 265.8,535.05 273.5,536.78 280.39,538.57 286.62,541.03 292.31,545.51 297.54,546.59 302.38,546.63 306.89,550.54 311.11,555.41 315.07,557.72 318.81,558.32 322.34,558.88 325.69,560 328.88,561.44 331.92,563.11 334.83,564.82 337.61,566.11 340.28,566.07 342.84,565.76 345.31,565.22 347.69,564.58 349.98,561.94 352.19,560.41 354.34,558.01 356.41,552.12 358.42,546.87 360.38,539.59 362.27,533.75 364.11,522.26 365.9,515.07 367.65,518.17 369.34,523.29 371,529.28 372.61,535.64 374.19,540.44 375.73,542.82 377.23,545.78 378.7,547.9 380.13,550.24 381.54,551.39 382.92,551.48 384.26,551.21 385.58,550.25 386.88,549.16 388.15,547.06 389.39,542.83 390.61,538.71 391.81,535.74 392.99,533.18 394.15,531.45 395.28,531.11 396.4,533.2 397.5,536.25 398.58,542.59 399.64,550.12 400.69,554.18 401.72,557.11 402.73,559.34 403.73,562.2 404.71,565.92 405.68,568.85 406.64,570.51 407.58,571.76 408.5,573.95 409.42,576.75 410.32,578.6 411.21,579.74 412.08,581.89 412.95,583.31 413.81,582.58 414.65,582.84 415.48,584.1 416.3,584.96 417.12,585.03 417.92,585.12 418.71,586.07 419.49,587.09 420.27,588.41 421.03,589.42 421.79,588.77 422.53,588.62 423.27,590.41 424,592.32 424.72,592.16 425.44,592 426.14,593.21 426.84,592.97 427.54,592.76 428.22,593.34 428.9,592.85 429.57,593.19 430.23,594.27 430.89,594.43 431.54,594.57 432.18,594.82 432.82,595.28 433.45,596.46 434.08,596.75 434.7,596.32 435.31,597.19 435.92,597.88 436.52,597.04 437.12,597.03 437.71,598.87 438.3,600.1 438.88,599.87 439.45,599.81 440.02,599.64 440.59,599.66 441.15,600.29 441.71,600.74 442.26,601.87 442.81,602.24 443.35,601.18 443.89,600.72 444.42,601.22 444.95,602.06 445.47,602.68 445.99,602.89 446.51,603.14 447.02,603.66 447.53,603.78 448.04,603.89 448.54,604.2 449.03,604.21 449.53,603.83 450.02,603.74 450.5,604.97 450.99,606.35 451.46,606.71 451.94,606.36 452.41,606.26 452.88,606.82 453.35,606.48 453.81,607 454.27,609.36 454.72,609.65 455.17,608.33 455.62,608.02 456.07,608.54 456.51,608.92 456.95,608.74 457.39,609.13 457.82,609 458.26,608.14 458.68,609.11 459.11,610.55 459.53,610.81 459.95,610.89 460.37,611.97 460.79,613.23 461.2,612.24 461.61,611.35 462.02,612.17 462.42,611.99 462.82,611.1 463.22,610.76 463.62,611.67 464.01,613.43 464.41,613.78 464.8,613.13 465.19,612.44 465.57,613.28 465.95,614.64 466.34,614.36 466.71,614.23 467.09,614.55 467.47,614.91 467.84,614.29 468.21,613.6 468.58,614.22 468.94,614.39 469.31,614.21 469.67,614.69 470.03,614.66 470.39,613.92 470.74,614.32 471.1,614.53 471.45,614.39 471.8,615.51 472.15,616.02 472.5,616.15 472.84,616.24 473.18,616.02 473.53,616.18 473.86,616.98 474.2,618.53 474.54,618.69 474.87,617.87 475.21,618.41 475.54,619.31 475.87,618.81 476.19,617.32 476.52,616.58 476.84,617.22 477.17,618.45 477.49,619.15 477.81,619.04 478.13,617.88 478.44,617.57 478.76,618.24 479.07,617.63 479.38,617.63 479.69,619.35 480,619.86 480.31,618.64 480.62,618.7 480.92,619.23 481.22,618.68 481.53,617.9 481.83,617.97 482.13,618.55 482.42,617.61 482.72,616.3 483.01,616.38 483.31,617.28 483.6,617.08 483.89,615.74 484.18,615.12 484.47,614.32 484.76,613.34 485.04,614.18 485.33,614.95 485.61,614.27 485.89,613.18 486.18,611.44 486.46,610.55 486.73,610.55 487.01,609.59 487.29,608.65 487.56,608.27 487.84,608.28 488.11,608.83 488.38,608.93 488.65,608.86 488.92,610.21 489.19,612.08 489.46,613.63 489.72,615.6 489.99,617.13 490.25,617.11 490.52,616.68 490.78,617.27 491.04,617.65 491.3,617.65 491.56,618.15 491.82,618.54 492.07,617.94 492.33,617.48 492.58,618.32 492.84,618.74 493.09,618.96 493.34,620.32 493.59,621.54 493.84,621.1 494.09,620.91 494.34,622.14 494.59,622.02 494.83,620.79 495.08,620.86 495.32,621.4 495.57,621.51 495.81,622.33 496.05,623.8 496.29,624.36 496.53,623.39 496.77,622.57 497.01,623.27 497.25,624.06 497.48,624.41 497.72,624.43 497.95,624.08 498.19,623.78 498.42,624.02 498.65,624.43 498.88,623.8 499.11,623.95 499.34,624.22 499.57,623.07 499.8,623.45 500.03,624.64 500.25,623.85 500.48,622.7 500.7,622.27 500.93,621.54 501.15,621.02 501.37,621.08 501.6,620.85 501.82,620.34 502.04,620.39 502.26,621.52 502.48,622.18 502.69,620.63 502.91,619.67 503.13,620.55 503.35,620.21 503.56,619.68 503.78,620.47 503.99,619.31 504.2,618.11 504.42,619.03 504.63,618.44 504.84,617.51 505.05,618.07 505.26,617.96 505.47,617.91 505.68,618.56 505.88,618.25 506.09,617.25 506.3,616.78 506.5,616.99 506.71,617.43 506.91,617.55 507.12,616.63 507.32,615.48 507.52,615.63 507.73,616.27 507.93,615.02 508.13,612.73 508.33,612.41 508.53,614.13 508.73,615.12 508.92,613.68 509.12,611.85 509.32,611.13 509.52,611.42 509.71,611.66 509.91,611.94 510.1,612.06 510.3,610.71 510.49,610.16 510.68,610.06 510.88,608.45 511.07,608.17 511.26,609.67 511.45,609.58 511.64,608.25 511.83,607.72 512.02,607.88 512.21,606.86 512.4,604.69 512.58,604.59 512.77,606.06 512.96,605.3 513.14,602.87 513.33,601.45 513.51,600.95 513.7,601.48 513.88,602.18 514.06,602.43 514.25,602.88 514.43,602.18 514.61,600.73 514.79,600.33 514.97,600.7 515.15,600.48 515.33,599.92 515.51,599.75 515.69,599.85 515.87,600.39 516.05,600.68 516.23,600.53 516.4,601.18 516.58,602.23 516.75,602.42 516.93,602.21 517.11,602.26 517.28,602.47 517.45,602.74 517.63,603.12 517.8,604.02 517.97,604.69 518.15,604.04 518.32,603.58 518.49,604.41 518.66,605.24 518.83,605.91 519,607.43 519.17,608.31 519.34,608 519.51,607.82 519.68,608.04 519.84,609.71 520.01,611.31 520.18,610.19 520.34,608.85 520.51,610.07 520.68,611.65 520.84,611.49 521.01,610.74 521.17,610.79 521.33,610.97 521.5,610.84 521.66,611.63 521.82,612.66 521.99,612.57 522.15,612.31 522.31,612.89 522.47,614.34 522.63,615.99 522.79,616.27 522.95,616.17 523.11,616.61 523.27,616.67 523.43,616.9 523.59,617.74 523.75,617.93 523.9,617.3 524.06,618.23 524.22,620.08 524.38,619.93 524.53,619.51 524.69,620.69 524.84,621.22 525,621.43 525.15,622.86 525.31,623.89 525.46,623.58 525.61,622.98 525.77,622.77 525.92,623.29 526.07,623.93 526.23,623.99 526.38,624.29 526.53,624.95 526.68,625.54 526.83,625.72 526.98,626.02 527.13,627.02 527.28,627.35 527.43,627.49 527.58,628.18 527.73,628.75 527.88,629.25 528.02,628.63 528.17,627.47 528.32,627.45 528.47,628.16 528.61,629.13 528.76,629.08 528.91,627.84 529.05,627.6 529.2,628.55 529.34,629.69 529.49,630.67 529.63,630.83 529.78,629.68 529.92,629.82 530.06,631.3 530.21,630.92 530.35,630.79 530.49,632.44 530.63,633.23 530.78,632.71 530.92,632.55 531.06,632.59 531.2,631.91 531.34,631.25 531.48,631.02 531.62,630.69 531.76,630.36 531.9,631.34 532.04,633.08 532.18,633.73 532.32,633.98 532.45,633.96 532.59,633.36 532.73,632.9 532.87,633.39 533.01,634.71 533.14,634.89 533.28,634.09 533.42,633.94 533.55,634.12 533.69,634.35 533.82,634.36 533.96,633.81 534.09,633.81 534.23,634.57 534.36,635.08 534.5,635.96 534.63,637.1 534.76,636.51 534.9,635.82 535.03,636.06 535.16,635.52 535.29,635.6 535.43,636.41 535.56,636.28 535.69,635.74 535.82,635.26 535.95,635.21 536.08,636.01 536.21,636.67 536.34,636.53 536.47,636.03 536.6,635.69 536.73,636.17 536.86,637.38 536.99,637.94 537.12,637.69 537.25,637.83 537.38,637.96 537.51,637.6 537.63,637.39 537.76,637.04 537.89,636.95 538.02,636.58 538.14,635.99 538.27,636.48 538.39,636.85 538.52,636.77 538.65,637.74 538.77,639.39 538.9,639.2 539.02,637.86 539.15,636.71 539.27,636.15 539.4,636.71 539.52,637 539.64,637.04 539.77,637.33 539.89,637.9 540.01,638.37 540.14,638.78 540.26,638.95 540.38,638.76 540.51,639.15 540.63,638.44 540.75,637.56 540.87,638.55 540.99,638.88 541.11,638.46 541.23,639.24 541.36,639.93 541.48,639.42 541.6,638.84 541.72,639.23 541.84,639.42 541.96,638.24 542.07,638.06 542.19,639.25 542.31,639.98 542.43,639.81 542.55,639.56 542.67,640 542.79,640.25 542.9,640.73 543.02,640.86 543.14,639.77 543.26,639.38 543.37,640.43 543.49,640.92 543.61,640.47 543.72,640.49 543.84,640.18 543.96,639.39 544.07,639.89 544.19,640.28 544.3,639.75 544.42,640.16 544.53,641 544.65,641.59 544.76,642.35 544.88,642.16 544.99,640.45 545.1,640.48 545.22,642.65 545.33,643.88 545.45,643.14 545.56,641.83 545.67,641.92 545.78,642.37 545.9,642.41 546.01,642.77 546.12,643.06 546.23,643.2 546.35,643.42 546.46,642.89 546.57,642.14 546.68,642.2 546.79,642.95 546.9,643.36 547.01,643.13 547.12,642.54 547.23,641.65 547.34,641.86 547.45,642.97 547.56,643.68 547.67,644.12 547.78,644.22 547.89,643.72 548,643.03 548.11,642.68 548.22,642.07 548.33,642.02 548.43,643.28 548.54,642.83 548.65,642.31 548.76,644.23 548.87,644.74 548.97,643.83 549.08,643.56 549.19,643.67 549.29,643.89 549.4,643.85 549.51,643.66 549.61,644.27 549.72,645.61 549.83,645.59 549.93,645.02 550.04,645.5 550.14,645.33 550.25,644.65 550.35,644.56 550.46,644.12 550.56,643.79 550.67,644.05 550.77,644.33 550.88,645.22 550.98,645.93 551.09,645.29 551.19,644.86 551.29,645.29 551.4,645.08 551.5,644.95 551.6,645.32 551.71,644.43 551.81,643.93 551.91,645.03 552.01,645.55 552.12,644.95 552.22,644.34 552.32,644.45 552.42,645.09 552.52,645.83 552.63,645.96 552.73,646.4 552.83,646.56 552.93,645.13 553.03,645.37 553.13,646.61 553.23,646.14 553.33,645.71 553.43,645.69 553.53,646.26 553.63,647.21 553.73,646.39 553.83,645.5 553.93,646.58 554.03,647.81 554.13,648.21 554.23,647.72 554.33,646.12 554.43,645.09 554.53,645.62 554.62,645.54 554.72,645.21 554.82,646.57 554.92,647.28 555.02,646.51 555.11,646.67 555.21,647.89 555.31,648.08 555.41,647.15 555.5,647.26 555.6,648.03 555.7,647.97 555.8,647.5 555.89,647.15 555.99,647.24 556.08,647.56 556.18,647.28 556.28,646.3 556.37,646.22 556.47,646.97 556.56,647.35 556.66,647.81 556.76,647.58 556.85,646.57 556.95,646.5 557.04,647.52 557.14,647.92 557.23,648.26 557.32,648.88 557.42,648.69 557.51,648.31 557.61,648.39 557.7,649.43 557.79,649.89 557.89,648.71 557.98,648.16 558.08,648.19 558.17,647.9 558.26,648.38 558.36,648.68 558.45,648.8 558.54,649.6 558.63,649.49 558.73,648.43 558.82,647.98 558.91,648.26 559,648.67 559.09,648.88 559.19,648.09 559.28,647.66 559.37,647.79 559.46,647.57 559.55,648.43 559.64,649.01 559.73,648.4 559.83,648.58 559.92,650.24 560.01,650.73 560.1,649.07 560.19,648.07 560.28,647.44 560.37,646.97 560.46,648 560.55,648.63 560.64,648.37 560.73,648.1 560.82,648.44 560.91,649.78 561,651.34 561.09,651.73 561.18,650.24 561.26,649.14 561.35,648.23 561.44,647.69 561.53,648.92 561.62,649.99 561.71,650.41 561.8,650.7 561.88,650.25 561.97,649.52 562.06,649.52 562.15,649.83 562.24,649.63 562.32,649.12 562.41,649.29 562.5,649.64 562.58,649.62 562.67,650.3 562.76,650.41 562.85,649.29 562.93,649.6 563.02,650.28 563.11,649.62 563.19,650.13 563.28,650.66 563.36,649.56 563.45,649.16 563.54,649.5 563.62,649.95 563.71,650.98 563.79,651.23 563.88,650.3 563.96,650.21 564.05,650.58 564.14,650.36 564.22,650.14 564.31,650.22 564.39,650.66 564.47,651.58 564.56,652.38 564.64,651.54 564.73,649.93 564.81,649.7 564.9,650.62 564.98,650.47 565.06,649.88 565.15,650.28 565.23,649.9 565.32,649.46 565.4,649.89 565.48,650.35 565.57,651.01 565.65,651.18 565.73,651.01 565.82,650.64 565.9,649.42 565.98,649.27 566.06,651 566.15,651.67 566.23,651.46 566.31,651.65 566.39,651.1 566.48,650.82 566.56,651.14 566.64,651.63 566.72,652.03 566.8,651.97 566.88,652.52 566.97,652.71 567.05,652.28 567.13,651.69 567.21,651.04 567.29,651.34 567.37,651.65 567.45,650.8 567.53,650.31 567.62,650.96 567.7,650.98 567.78,650.59 567.86,651.56 567.94,651.69 568.02,649.67 568.1,650.04 568.18,652.47 568.26,652.44 568.34,651.24 568.42,650.82 568.5,651.19 568.58,652.28 568.66,652.78 568.74,651.92 568.81,651.63 568.89,652.81 568.97,653.19 569.05,653.16 569.13,653.59 569.21,653.16 569.29,652.39 569.37,652.26 569.45,652.85 569.52,653.24 569.6,652.85 569.68,652.67 569.76,652.77 569.84,652.26 569.91,651.36 569.99,650.62 570.07,651 570.15,652.49 570.23,653.88 570.3,653.68 570.38,652.24 570.46,652.32 570.53,652.59 570.61,652.64 570.69,653.15 570.77,652.72 570.84,653.08 570.92,653.81 571,652.63 571.07,652.35 571.15,653.28 571.23,652.69 571.3,652.09 571.38,652.15 571.45,651.79 571.53,651.75 571.61,652.16 571.68,652.4 571.76,652.54 571.83,652.75 571.91,653.22 571.98,652.62 572.06,651.53 572.14,652.03 572.21,653.29 572.29,654.11 572.36,653.87 572.44,652.8 572.51,652.11 572.59,652.2 572.66,652.53 572.74,652.42 572.81,652.27 572.88,653.09 572.96,653.33 573.03,652.67 573.11,652.89 573.18,653.56 573.26,653.79 573.33,653.38 573.4,652.75 573.48,653.2 573.55,653.85 573.62,653.34 573.7,653.37 573.77,653.69 573.84,653.24 573.92,653.39 573.99,653.42 574.06,652.46 574.14,652.42 574.21,653.28 574.28,653.68 574.36,653.09 574.43,652.3 574.5,652.58 574.57,653.06 574.65,653.26 574.72,652.39 574.79,652.58 574.86,654.75 574.94,654.63 575.01,653.43 575.08,653.74 575.15,653.38 575.22,652.32 575.3,653.43 575.37,654.52 575.44,654.29 575.51,654.23 575.58,653.73 575.65,653.7 575.72,653.41 575.8,652.78 575.87,653.75 575.94,655.37 576.01,655.11 576.08,653.33 576.15,653.19 576.22,653.88 576.29,653.38 576.36,653 576.43,654.08 576.5,655.42 576.57,654.64 576.64,653.16 576.72,652.81 576.79,653.97 576.86,655.38 576.93,654.59 577,652.7 577.07,652.38 577.14,653.94 577.2,654.63 577.27,653.86 577.34,653.61 577.41,653.7 577.48,653.74 577.55,654.19 577.62,654.43 577.69,654.39 577.76,654.5 577.83,655.2 577.9,655.2 577.97,653.9 578.04,653.82 578.1,654.46 578.17,653.96 578.24,653.84 578.31,654.67 578.38,654.53 578.45,653.77 578.52,653.87 578.58,655.14 578.65,655.53 578.72,654.1 578.79,653.69 578.86,654.35 578.92,654.49 578.99,654.47 579.06,655 579.13,655.58 579.19,655.55 579.26,655.37 579.33,655.53 579.4,655.3 579.46,654.92 579.53,654.98 579.6,654.87 579.67,654.89 579.73,654.16 579.8,653.37 579.87,654.18 579.93,655 580,654.76 580.07,655.09 580.13,656.01 580.2,655.61 580.27,654.9 580.33,654.89 580.4,654.5 580.47,653.83 580.53,653.54 580.6,653.55 580.67,654.05 580.73,654.71 580.8,654.93 580.86,655.04 580.93,655.12 580.99,655.61 581.06,656.18 581.13,655.63 581.19,655.27 581.26,655.51 581.32,654.98 581.39,654.51 581.45,654.01 581.52,654.34 581.58,656.04 581.65,656.59 581.71,655.89 581.78,653.88 581.84,653.53 581.91,655.69 581.97,655.52 582.04,654.61 582.1,654.76 582.17,655.45 582.23,656.05 582.3,655.02 582.36,654.39 582.43,655.04 582.49,655.17 582.55,654.92 582.62,655.05 582.68,655.21 582.75,656.11 582.81,656.84 582.87,655.8 582.94,654.65 583,654.77 583.07,655.44 583.13,655.2 583.19,654.61 583.26,654.33 583.32,653.46 583.38,653.58 583.45,655.76 583.51,656.53 583.57,654.68 583.64,653.43 583.7,653.67 583.76,654.49 583.83,655.59 583.89,655.61 583.95,655.15 584.01,656.2 584.08,657.2 584.14,655.7 584.2,653.13 584.27,653.23 584.33,655.32 584.39,655.95 584.45,655.64 584.51,655.27 584.58,654.66 584.64,655.28 584.7,655.65 584.76,654.98 584.83,655.2 584.89,655.4 584.95,655.39 585.01,655.47 585.07,655.5 585.14,656.42 585.2,657.74 585.26,658.09 585.32,657.37 585.38,656.42 585.44,655.69 585.5,655.2 585.57,654.98 585.63,655.45 585.69,656.23 585.75,657.01 585.81,657.3 585.87,656.19 585.93,655.02 585.99,654.99 586.05,655.47 586.12,655.35 586.18,654.91 586.24,654.92 586.3,654.8 586.36,654.79 586.42,654.73 586.48,654.76 586.54,655.65 586.6,656.34 586.66,656.59 586.72,655.91 586.78,654.15 586.84,653.8 586.9,654.78 586.96,654.8 587.02,654.31 587.08,654.22 587.14,654.96 587.2,656.37 587.26,656.43 587.32,655.08 587.38,654.47 587.44,655.42 587.5,656.42 587.56,656.52 587.62,656.64 587.68,656.05 587.74,655.2 587.8,655.66 587.86,655.2 587.91,653.79 587.97,654.04 588.03,655.34 588.09,655.97 588.15,655.15 588.21,654.28 588.27,654.34 588.33,654.67 588.39,655.13 588.44,655.51 588.5,655.66 588.56,655.16 588.62,655.3 588.68,656.46 588.74,656.36 588.8,655.95 588.85,656.34 588.91,656.05 588.97,654.75 589.03,653.99 589.09,654.65 589.14,656.04 589.2,656.26 589.26,655.11 589.32,655.24 589.38,656.37 589.43,656.82 589.49,656.83 589.55,656.78 589.61,656.19 589.67,655.65 589.72,655.74 589.78,656.13 589.84,656.04 589.9,655.57 589.95,656.67 590.01,657.67 590.07,657.13 590.12,657.06 590.18,657.22 590.24,656.61 590.3,656.45 590.35,656.91 590.41,656.14 590.47,654.92 590.52,655.2 590.58,655.97 590.64,656.17 590.69,656.23 590.75,655.99 590.81,655.71 590.86,656.86 590.92,657.96 590.98,657.4 591.03,656.63 591.09,656.3 591.15,656.39 591.2,655.58 591.26,655.02 591.31,656.63 591.37,657.95 591.43,658.55 591.48,659.18 591.54,658.36 591.59,656.94 591.65,657.31 591.71,658.41 591.76,657.84 591.82,656.7 591.87,656.81 591.93,656.77 591.98,655.77 592.04,654.59 592.1,654.14 592.15,654.9 592.21,655.86 592.26,655.58 592.32,654.55 592.37,654.87 592.43,655.98 592.48,656.12 592.54,656.06 592.59,656.49 592.65,657.28 592.7,657.79 592.76,657.89 592.81,657.35 592.87,655.98 592.92,656.12 592.98,656.69 593.03,655.64 593.09,656.08 593.14,656.93 593.2,655.63 593.25,654.58 593.31,655.24 593.36,656.53 593.41,656.5 593.47,656.03 593.52,656.24 593.58,656.03 593.63,656.32 593.69,657.74 593.74,658.52 593.79,658.24 593.85,657.71 593.9,657.1 593.96,656.46" stroke="#440154"/>
<polyline points="96.5,494.45 129.89,494.32 175.19,495.45 201.69,502.44 220.5,517.09 235.08,527.88 247,530.28 257.08,532.33 265.8,534.37 273.5,536.78 280.39,538.57 286.62,541.03 292.31,544.85 297.54,546.83 302.38,546.95 306.89,550.54 311.11,554.82 315.07,556.46 318.81,557.26 322.34,558.24 325.69,560.09 328.88,561.81 331.92,563.18 334.83,564.73 337.61,566.24 340.28,566.18 342.84,565.76 345.31,565.64 347.69,565.66 349.98,563.04 352.19,560.35 354.34,557.69 356.41,552.45 358.42,547.07 360.38,539.47 362.27,533.84 364.11,522.48 365.9,515.29 367.65,518.22 369.34,523.26 371,529.09 372.61,535.7 374.19,540.67 375.73,542.66 377.23,545.47 378.7,547.34 380.13,549.03 381.54,550.68 382.92,552.02 384.26,552.42 385.58,551.67 386.88,550.36 388.15,548.14 389.39,544.47 390.61,541.13 391.81,538.79 392.99,536.51 394.15,534.65 395.28,533.82 396.4,535.32 397.5,538.57 398.58,545.14 399.64,552.01 400.69,555.03 401.72,557.6 402.73,560.53 403.73,563.87 404.71,566.62 405.68,569.17 406.64,571.81 407.58,573.23 408.5,574.17 409.42,575.35 410.32,577.19 411.21,579.83 412.08,582.43 412.95,582.55 413.81,582.47 414.65,584.11 415.48,585.34 416.3,585.02 417.12,584.99 417.92,586.16 418.71,587.32 419.49,587.55 420.27,587.95 421.03,589.73 421.79,590.86 422.53,590.21 423.27,589.95 424,590.37 424.72,590.87 425.44,591.86 426.14,592.53 426.84,592.6 427.54,592.08 428.22,592.09 428.9,592.6 429.57,592.18 430.23,592.36 430.89,593.52 431.54,593.86 432.18,594.14 432.82,595.44 433.45,596.77 434.08,597.22 434.7,596.49 435.31,595.94 435.92,596.58 436.52,597.51 437.12,598.19 437.71,599.04 438.3,599.49 438.88,599.14 439.45,599.87 440.02,601.08 440.59,601.42 441.15,601.06 441.71,600.13 442.26,600.56 442.81,601.71 443.35,601.26 443.89,601.3 444.42,602.99 444.95,604.2 445.47,604.25 445.99,603.85 446.51,603.66 447.02,604.69 447.53,605.62 448.04,605.51 448.54,605.37 449.03,605.29 449.53,606.02 450.02,606.73 450.5,606.82 450.99,606.26 451.46,605.25 451.94,605.26 452.41,605.95 452.88,607.16 453.35,608.47 453.81,608.66 454.27,608.71 454.72,608.73 455.17,608.49 455.62,609.08 456.07,609.85 456.51,610.67 456.95,610.79 457.39,609.21 457.82,608.37 458.26,609.57 458.68,611.64 459.11,612.47 459.53,610.87 459.95,609.63 460.37,609.89 460.79,609.78 461.2,609.49 461.61,610.3 462.02,611.21 462.42,611 462.82,611.68 463.22,613.22 463.62,613.78 464.01,613.82 464.41,613.18 464.8,612.99 465.19,614.45 465.57,614.72 465.95,613.17 466.34,612.4 466.71,613.11 467.09,614.03 467.47,613.12 467.84,611.72 468.21,612.36 468.58,613.95 468.94,614.7 469.31,614.56 469.67,614.02 470.03,614.07 470.39,615.41 470.74,616.19 471.1,615.8 471.45,615.68 471.8,615.63 472.15,615.17 472.5,614.67 472.84,615.26 473.18,616.45 473.53,616.1 473.86,615.78 474.2,616.73 474.54,616.74 474.87,615.97 475.21,616.06 475.54,617.36 475.87,619.05 476.19,619.25 476.52,618.22 476.84,616.93 477.17,616.66 477.49,617.71 477.81,617.72 478.13,618.22 478.44,619.87 478.76,619.85 479.07,619.13 479.38,619.18 479.69,618.99 480,618.9 480.31,619.15 480.62,619.1 480.92,619.39 481.22,619.32 481.53,618.88 481.83,618.94 482.13,618.19 482.42,617.33 482.72,617.75 483.01,617.72 483.31,617.06 483.6,616.46 483.89,616.06 484.18,615.92 484.47,615.16 484.76,614.74 485.04,613.8 485.33,612.4 485.61,611.86 485.89,610.82 486.18,609.85 486.46,609.92 486.73,609.97 487.01,608.64 487.29,607.84 487.56,608.71 487.84,608.49 488.11,607.86 488.38,609.33 488.65,611.34 488.92,612.1 489.19,612.28 489.46,612.89 489.72,613.33 489.99,613.81 490.25,615.15 490.52,615.56 490.78,615.91 491.04,616.96 491.3,616.46 491.56,616.65 491.82,618.9 492.07,620.17 492.33,620.66 492.58,620.71 492.84,620.49 493.09,620.78 493.34,619.87 493.59,619.72 493.84,621.38 494.09,622.38 494.34,622.34 494.59,621.76 494.83,621.93 495.08,622.22 495.32,621.84 495.57,621.87 495.81,622.36 496.05,622.77 496.29,622.93 496.53,623.23 496.77,623.57 497.01,623.94 497.25,624.47 497.48,623.34 497.72,621.79 497.95,622.73 498.19,623.81 498.42,623.63 498.65,624.19 498.88,624.75 499.11,623.77 499.34,622.46 499.57,622.29 499.8,622.98 500.03,623.71 500.25,623.16 500.48,621.76 500.7,622 500.93,623.55 501.15,624.41 501.37,622.79 501.6,620.93 501.82,621.61 502.04,621.89 502.26,621.27 502.48,621.31 502.69,621.75 502.91,622.28 503.13,621.28 503.35,619.9 503.56,619.9 503.78,620.35 503.99,620.89 504.2,620.39 504.42,619.02 504.63,618.84 504.84,619.28 505.05,618.69 505.26,618.42 505.47,618.65 505.68,618.45 505.88,618.73 506.09,618.62 506.3,618.73 506.5,619.18 506.71,618.32 506.91,617.9 507.12,617.89 507.32,616.58 507.52,615.46 507.73,614.96 507.93,614.72 508.13,615.59 508.33,615.2 508.53,613.28 508.73,612.54 508.92,612.85 509.12,612.98 509.32,612.29 509.52,611.6 509.71,611.38 509.91,610.91 510.1,610.59 510.3,611.25 510.49,611.96 510.68,611.14 510.88,609.75 511.07,609.92 511.26,610.42 511.45,609.91 511.64,609.39 511.83,608.99 512.02,608.2 512.21,607.53 512.4,607.19 512.58,606.53 512.77,605.57 512.96,604.8 513.14,603.95 513.33,603.07 513.51,603.34 513.7,604.04 513.88,603.39 514.06,602.01 514.25,601.46 514.43,601.96 514.61,601.79 514.79,601.01 514.97,600.31 515.15,599.86 515.33,599.95 515.51,600.4 515.69,601.87 515.87,602.03 516.05,600.43 516.23,600.07 516.4,600.65 516.58,600.99 516.75,601.72 516.93,602.31 517.11,602.18 517.28,602.23 517.45,602.31 517.63,603.48 517.8,605.38 517.97,605.12 518.15,603.97 518.32,604.48 518.49,605.27 518.66,605.54 518.83,606.23 519,606.73 519.17,606.7 519.34,606.35 519.51,606.29 519.68,606.61 519.84,606.26 520.01,606.09 520.18,606.82 520.34,608.05 520.51,609.35 520.68,610.16 520.84,610.95 521.01,611.61 521.17,611.94 521.33,611.7 521.5,611.09 521.66,611.85 521.82,613.93 521.99,615.13 522.15,614.93 522.31,615.25 522.47,616.37 522.63,617.54 522.79,617.85 522.95,616.96 523.11,615.96 523.27,615.73 523.43,617.19 523.59,618.13 523.75,617.98 523.9,618.81 524.06,619.92 524.22,620.83 524.38,620.88 524.53,620.06 524.69,619.81 524.84,620.61 525,622.07 525.15,623.21 525.31,623.4 525.46,623.55 525.61,624.16 525.77,623.69 525.92,622.77 526.07,623.47 526.23,624.58 526.38,624.87 526.53,625.7 526.68,626.83 526.83,626.61 526.98,625.11 527.13,624.91 527.28,626.63 527.43,627.63 527.58,626.59 527.73,625.16 527.88,625.99 528.02,628.3 528.17,629.55 528.32,628.74 528.47,626.97 528.61,626.78 528.76,628.41 528.91,629.6 529.05,630.31 529.2,630.41 529.34,629.8 529.49,629.64 529.63,629.98 529.78,631.21 529.92,631.51 530.06,630.78 530.21,630.59 530.35,630.3 530.49,630.89 530.63,631.52 530.78,630.74 530.92,631.08 531.06,631.79 531.2,630.72 531.34,630.39 531.48,631.76 531.62,633.28 531.76,633.41 531.9,632.36 532.04,632.26 532.18,633.49 532.32,634.53 532.45,634.64 532.59,633.69 532.73,633.49 532.87,634.47 533.01,634.15 533.14,632.71 533.28,632 533.42,632.75 533.55,634.2 533.69,635.21 533.82,635.37 533.96,634.92 534.09,634.43 534.23,633.78 534.36,633.23 534.5,634.2 534.63,634.85 534.76,633.79 534.9,633.69 535.03,634.91 535.16,636.32 535.29,637.24 535.43,636.46 535.56,635.49 535.69,636.32 535.82,636.86 535.95,636.04 536.08,635.44 536.21,635.24 536.34,634.91 536.47,635.25 536.6,636.04 536.73,636.34 536.86,636.59 536.99,636.37 537.12,636.21 537.25,636.18 537.38,636.08 537.51,636.22 537.63,635.94 537.76,636.06 537.89,637.01 538.02,637.93 538.14,638.32 538.27,638.2 538.39,637.91 538.52,636.67 538.65,635.38 538.77,636.02 538.9,637.43 539.02,638.58 539.15,639 539.27,638.56 539.4,638.58 539.52,638.41 539.64,637.81 539.77,637.91 539.89,638.81 540.01,639.91 540.14,639.44 540.26,638.52 540.38,638.41 540.51,638.34 540.63,638.54 540.75,639.55 540.87,640.71 540.99,641.26 541.11,641.02 541.23,639.66 541.36,639.08 541.48,639.85 541.6,640.47 541.72,639.72 541.84,638.01 541.96,637.94 542.07,638.85 542.19,639.63 542.31,641.4 542.43,642.23 542.55,641.52 542.67,641.24 542.79,640.96 542.9,639.36 543.02,638.45 543.14,639.89 543.26,640.69 543.37,640.45 543.49,640.32 543.61,639.5 543.72,639.7 543.84,641.12 543.96,641.42 544.07,641.06 544.19,641.52 544.3,642.79 544.42,643.9 544.53,643.43 544.65,641.78 544.76,641.11 544.88,642.25 544.99,643.39 545.1,643.04 545.22,642.91 545.33,643.4 545.45,642.77 545.56,641.56 545.67,641.36 545.78,641.69 545.9,641.97 546.01,642.4 546.12,642.4 546.23,642.06 546.35,641.99 546.46,642.34 546.57,642.67 546.68,642.94 546.79,642.33 546.9,641.13 547.01,641.43 547.12,641.5 547.23,640.58 547.34,641.67 547.45,643.36 547.56,642.81 547.67,641.59 547.78,641.06 547.89,641.34 548,642.69 548.11,644.23 548.22,644.36 548.33,643.41 548.43,643.44 548.54,644.28 548.65,644.43 548.76,644.11 548.87,643.74 548.97,643.66 549.08,644.41 549.19,644.48 549.29,642.98 549.4,642.5 549.51,643.24 549.61,643.31 549.72,643.3 549.83,643.47 549.93,644.02 550.04,644.55 550.14,643.94 550.25,643.89 550.35,644.13 550.46,642.77 550.56,641.81 550.67,641.95 550.77,642.43 550.88,643.7 550.98,645.07 551.09,645.77 551.19,645.74 551.29,645.25 551.4,644.83 551.5,645.39 551.6,645.57 551.71,643.5 551.81,642.85 551.91,644.31 552.01,644.75 552.12,644.77 552.22,645.21 552.32,645.65 552.42,646.06 552.52,646.22 552.63,645.88 552.73,645.59 552.83,645.89 552.93,646.33 553.03,646.16 553.13,645.69 553.23,645.93 553.33,646.44 553.43,645.82 553.53,645.08 553.63,645.55 553.73,646.47 553.83,646.86 553.93,646.42 554.03,645.39 554.13,645.12 554.23,646.27 554.33,646.91 554.43,646.46 554.53,646.66 554.62,647.5 554.72,647.6 554.82,646.85 554.92,646.78 555.02,647.82 555.11,647.87 555.21,647.38 555.31,647.64 555.41,647.26 555.5,646.82 555.6,647.43 555.7,647.95 555.8,647.73 555.89,647.39 555.99,647.47 556.08,647.42 556.18,647.5 556.28,648.29 556.37,648.19 556.47,647.22 556.56,647.08 556.66,647.49 556.76,647.66 556.85,647.62 556.95,646.77 557.04,646.4 557.14,647.31 557.23,648 557.32,648.04 557.42,647.13 557.51,646.74 557.61,647.95 557.7,648.7 557.79,647.79 557.89,646.77 557.98,646.68 558.08,647.89 558.17,649.51 558.26,648.92 558.36,647.99 558.45,648.33 558.54,647.36 558.63,646.42 558.73,646.86 558.82,647.56 558.91,648.83 559,649.63 559.09,649.22 559.19,648.87 559.28,648.56 559.37,648.32 559.46,648.57 559.55,648.58 559.64,648.49 559.73,648.09 559.83,647.46 559.92,647.96 560.01,648.86 560.1,649.38 560.19,649.12 560.28,648.32 560.37,648.94 560.46,650.1 560.55,650.05 560.64,649.71 560.73,649.27 560.82,649.12 560.91,649.62 561,649.4 561.09,649.57 561.18,650.23 561.26,649.92 561.35,649.4 561.44,649.4 561.53,649.63 561.62,650.17 561.71,651.13 561.8,650.79 561.88,649.18 561.97,648.74 562.06,649.65 562.15,649.87 562.24,650.05 562.32,651.29 562.41,651 562.5,649.53 562.58,649.65 562.67,651.2 562.76,651.25 562.85,649.66 562.93,649.81 563.02,650.71 563.11,650.13 563.19,650.47 563.28,651.37 563.36,650.14 563.45,650.12 563.54,651.28 563.62,651.19 563.71,650.98 563.79,650.1 563.88,648.95 563.96,648.94 564.05,650.14 564.14,650.38 564.22,650.04 564.31,650.93 564.39,651.49 564.47,651.2 564.56,651.25 564.64,651.34 564.73,650.58 564.81,650.18 564.9,649.94 564.98,649.7 565.06,650.01 565.15,650.26 565.23,650.56 565.32,651.28 565.4,652 565.48,651.6 565.57,651.25 565.65,651.68 565.73,651.81 565.82,651.82 565.9,652.55 565.98,653.19 566.06,652.58 566.15,652 566.23,652.18 566.31,652.25 566.39,651.48 566.48,650.88 566.56,651.41 566.64,651.32 566.72,650.24 566.8,649.9 566.88,650.01 566.97,650.42 567.05,651.35 567.13,651.32 567.21,650.98 567.29,651.6 567.37,651.73 567.45,651.25 567.53,651.33 567.62,651.37 567.7,651.14 567.78,651.22 567.86,650.89 567.94,650.49 568.02,650.66 568.1,651.46 568.18,652.86 568.26,653.43 568.34,652.62 568.42,651.24 568.5,651.11 568.58,652.17 568.66,652.49 568.74,652.75 568.81,652.94 568.89,652.25 568.97,651.59 569.05,651.26 569.13,651.54 569.21,652.09 569.29,651.53 569.37,651.16 569.45,651.64 569.52,652.05 569.6,652.86 569.68,653.39 569.76,653.19 569.84,651.87 569.91,650.66 569.99,651.07 570.07,651.29 570.15,651.54 570.23,651.85 570.3,652.07 570.38,652.42 570.46,651.96 570.53,652.44 570.61,653.25 570.69,652.45 570.77,651.78 570.84,651.49 570.92,651.45 571,652.16 571.07,652.15 571.15,652.26 571.23,652.62 571.3,652.68 571.38,653.79 571.45,654 571.53,653.24 571.61,653.41 571.68,653.86 571.76,654.01 571.83,653.78 571.91,653.52 571.98,653.58 572.06,653.71 572.14,653.24 572.21,652.94 572.29,653.02 572.36,652.95 572.44,653.39 572.51,654.82 572.59,655.32 572.66,654.27 572.74,653.88 572.81,653.59 572.88,653.67 572.96,654.66 573.03,654.61 573.11,654.24 573.18,654.03 573.26,653.38 573.33,653.49 573.4,654.22 573.48,653.95 573.55,653.27 573.62,653.25 573.7,652.95 573.77,653.46 573.84,654.91 573.92,654.8 573.99,653.63 574.06,652.86 574.14,652.43 574.21,652.2 574.28,652.54 574.36,653.42 574.43,653.48 574.5,653.16 574.57,653.15 574.65,653.48 574.72,654.06 574.79,653.72 574.86,654.16 574.94,654.7 575.01,653.49 575.08,653.04 575.15,653.89 575.22,654.58 575.3,653.84 575.37,653.06 575.44,654.99 575.51,656.8 575.58,656.01 575.65,654.96 575.72,654.43 575.8,654.43 575.87,654.89 575.94,654.36 576.01,653.89 576.08,653.79 576.15,653.16 576.22,653.95 576.29,654.58 576.36,653.52 576.43,653.6 576.5,654.2 576.57,654.44 576.64,655.33 576.72,654.89 576.79,653.6 576.86,654.24 576.93,654.85 577,653.8 577.07,653.21 577.14,654.39 577.2,655.49 577.27,654.83 577.34,653.65 577.41,652.75 577.48,652.61 577.55,653.83 577.62,654.6 577.69,653.93 577.76,653.66 577.83,653.97 577.9,654.59 577.97,655.43 578.04,654.88 578.1,654.28 578.17,653.92 578.24,654.03 578.31,654.91 578.38,654.69 578.45,653.96 578.52,654.15 578.58,655.14 578.65,656.07 578.72,655.18 578.79,653.31 578.86,653.69 578.92,655.16 578.99,655.22 579.06,654.48 579.13,653.97 579.19,653.3 579.26,653.32 579.33,653.89 579.4,654.35 579.46,655.14 579.53,655.34 579.6,655.5 579.67,655.63 579.73,655.03 579.8,654.13 579.87,654.78 579.93,656.7 580,656.59 580.07,655.66 580.13,655.12 580.2,654.34 580.27,654.18 580.33,654.64 580.4,654.8 580.47,654.35 580.53,654.9 580.6,655.97 580.67,656.03 580.73,656.21 580.8,656 580.86,655.02 580.93,654.6 580.99,654.96 581.06,655.42 581.13,655.55 581.19,655.37 581.26,654.6 581.32,653.55 581.39,652.86 581.45,653.58 581.52,655.12 581.58,655.8 581.65,655.58 581.71,654.27 581.78,653.1 581.84,654.46 581.91,656.67 581.97,657.05 582.04,656.11 582.1,655.02 582.17,654.64 582.23,654.09 582.3,653.87 582.36,655.22 582.43,655.18 582.49,653.76 582.55,654.33 582.62,656.17 582.68,657.29 582.75,657.72 582.81,657.3 582.87,655.85 582.94,654.64 583,654.39 583.07,655.07 583.13,655.89 583.19,655.19 583.26,654.64 583.32,655.63 583.38,655.62 583.45,654.83 583.51,654.83 583.57,655.04 583.64,654.66 583.7,654.46 583.76,655.16 583.83,655.63 583.89,655.84 583.95,656.04 584.01,655.82 584.08,655.44 584.14,654.71 584.2,653.74 584.27,654 584.33,654.9 584.39,654.89 584.45,654.58 584.51,654.63 584.58,654.91 584.64,655.28 584.7,655.84 584.76,655.74 584.83,654.53 584.89,653.86 584.95,654.26 585.01,654.72 585.07,655.18 585.14,656.24 585.2,656.59 585.26,655.49 585.32,655.22 585.38,656.08 585.44,655.85 585.5,655.51 585.57,655.64 585.63,654.6 585.69,653.52 585.75,653.8 585.81,655.15 585.87,655.94 585.93,655.81 585.99,655.65 586.05,655.87 586.12,655.74 586.18,655.31 586.24,655.89 586.3,655.99 586.36,655.53 586.42,655.9 586.48,655.94 586.54,655.61 586.6,656.17 586.66,656.65 586.72,656.2 586.78,655.19 586.84,654.87 586.9,655.46 586.96,655.62 587.02,655.99 587.08,656.31 587.14,655.93 587.2,655.28 587.26,654.34 587.32,654.35 587.38,655.05 587.44,654.62 587.5,654.23 587.56,655.05 587.62,655.66 587.68,655.4 587.74,655.37 587.8,655.64 587.86,655.59 587.91,654.99 587.97,654.34 588.03,654.65 588.09,655.18 588.15,654.65 588.21,654.75 588.27,655.44 588.33,655.59 588.39,656.07 588.44,655.72 588.5,654.7 588.56,654.49 588.62,655.31 588.68,656.41 588.74,657.08 588.8,656.8 588.85,655.89 588.91,656.06 588.97,656.33 589.03,656.08 589.09,656.45 589.14,656.69 589.2,655.85 589.26,654.42 589.32,654.39 589.38,656.13 589.43,657.07 589.49,656.33 589.55,655.73 589.61,655.53 589.67,655.6 589.72,655.72 589.78,655.19 589.84,655.04 589.9,655.75 589.95,656.45 590.01,656.31 590.07,656.15 590.12,656.68 590.18,656.87 590.24,657.19 590.3,657.16 590.35,656.19 590.41,655.92 590.47,655.81 590.52,656.04 590.58,656.93 590.64,656.64 590.69,655.69 590.75,655.87 590.81,656.41 590.86,655.99 590.92,655.3 590.98,654.75 591.03,654.72 591.09,654.66 591.15,654.5 591.2,655.63 591.26,656.68 591.31,656.99 591.37,657.07 591.43,657.31 591.48,657.67 591.54,656.87 591.59,655.67 591.65,655.57 591.71,655.72 591.76,655.69 591.82,656.35 591.87,657.35 591.93,658.02 591.98,657.86 592.04,656.69 592.1,655.43 592.15,655.88 592.21,656.8 592.26,656.25 592.32,655.97 592.37,656.41 592.43,656.6 592.48,656.83 592.54,657.55 592.59,657.92 592.65,656.7 592.7,655.11 592.76,655.13 592.81,656.45 592.87,657.19 592.92,656.6 592.98,655.84 593.03,656.17 593.09,656.69 593.14,656.57 593.2,656.39 593.25,656.41 593.31,657.19 593.36,657.73 593.41,656.79 593.47,656.43 593.52,657.14 593.58,656.76 593.63,656.16 593.69,656.78 593.74,656.48 593.79,655.12 593.85,654.96 593.9,655.92 593.96,656.33" stroke="#3b528b"/>
<polyline points="96.5,489.05 129.89,488.92 175.19,489.85 201.69,498.11 220.5,508.9 235.08,521.29 247,527.88 257.08,529.94 265.8,533.69 273.5,536.78 280.39,538.57 286.62,541.03 292.31,544.33 297.54,546.26 302.38,546.52 306.89,549.73 311.11,554.05 315.07,556.34 318.81,557.26 322.34,558.21 325.69,559.86 328.88,561.45 331.92,563 334.83,564.21 337.61,565.61 340.28,565.66 342.84,565.31 345.31,565.06 347.69,564.72 349.98,562.02 352.19,559.87 354.34,557.3 356.41,551.9 358.42,546.92 360.38,539.83 362.27,534.15 364.11,522.82 365.9,516.93 367.65,520.59 369.34,525.48 371,530.4 372.61,536.31 374.19,540.58 375.73,541.95 377.23,545.12 378.7,547.71 380.13,549.91 381.54,551.42 382.92,551.83 384.26,551.54 385.58,551.49 386.88,551.06 388.15,548.77 389.39,545.39 390.61,543.07 391.81,541.56 392.99,539.35 394.15,537.29 395.28,536.9 396.4,539.01 397.5,541.96 398.58,547.26 399.64,553.64 400.69,556.8 401.72,559.39 402.73,562.2 403.73,565.17 404.71,567.57 405.68,569.83 406.64,571.93 407.58,573.28 408.5,575.28 409.42,577.08 410.32,578.18 411.21,579.53 412.08,580.97 412.95,583 413.81,583.87 414.65,584.63 415.48,586.2 416.3,587.1 417.12,586.22 417.92,586.13 418.71,587.31 419.49,588.17 420.27,588.47 421.03,588.9 421.79,589.14 422.53,589.81 423.27,591.14 424,591.65 424.72,592.06 425.44,591.8 426.14,591.6 426.84,592.82 427.54,593.6 428.22,593.46 428.9,593.62 429.57,595.03 430.23,595.79 430.89,595.19 431.54,595.38 432.18,595.52 432.82,595.58 433.45,596.62 434.08,597.1 434.7,596.81 435.31,597.11 435.92,597.45 436.52,596.62 437.12,596.5 437.71,597.45 438.3,598.49 438.88,599.55 439.45,599.43 440.02,599.58 440.59,600.33 441.15,600.91 441.71,601.82 442.26,602.37 442.81,601.71 443.35,600.61 443.89,600.95 444.42,602.39 444.95,603.39 445.47,604.04 445.99,603.7 446.51,602.49 447.02,602.72 447.53,603.98 448.04,605.05 448.54,605.1 449.03,604.14 449.53,604.57 450.02,605.55 450.5,605.8 450.99,606.23 451.46,606.56 451.94,607.13 452.41,607.24 452.88,606.7 453.35,606.48 453.81,606.98 454.27,607.46 454.72,606.75 455.17,606.78 455.62,607.86 456.07,608.65 456.51,609.36 456.95,609.98 457.39,610.31 457.82,609.92 458.26,609.19 458.68,608.72 459.11,608.85 459.53,609.7 459.95,610.71 460.37,611.27 460.79,611.31 461.2,611.91 461.61,612.46 462.02,612.35 462.42,612.86 462.82,612.94 463.22,612.59 463.62,612.21 464.01,611.69 464.41,611.76 464.8,611.53 465.19,611.98 465.57,613.13 465.95,612.95 466.34,612.75 466.71,613.58 467.09,614.24 467.47,614.48 467.84,614.58 468.21,614.65 468.58,614.33 468.94,613.56 469.31,613.56 469.67,614.41 470.03,614.72 470.39,614.8 470.74,615.78 471.1,616.12 471.45,615.76 471.8,615.94 472.15,616.18 472.5,616.04 472.84,615.93 473.18,616.45 473.53,616.08 473.86,615.98 474.2,616.76 474.54,616.87 474.87,618.09 475.21,618.82 475.54,617.58 475.87,617.18 476.19,618.73 476.52,619.91 476.84,619.21 477.17,618.67 477.49,618.87 477.81,619.44 478.13,620.11 478.44,619.05 478.76,617.15 479.07,617.23 479.38,618.79 479.69,619.34 480,618.5 480.31,617.8 480.62,618.46 480.92,619.41 481.22,619.14 481.53,618.22 481.83,617.38 482.13,617.27 482.42,617.4 482.72,617.41 483.01,617.21 483.31,616.63 483.6,616.48 483.89,615.81 484.18,615.16 484.47,615.52 484.76,615.71 485.04,615.07 485.33,613.58 485.61,612.6 485.89,612.08 486.18,611.97 486.46,612.14 486.73,610.93 487.01,609.7 487.29,609.15 487.56,608.04 487.84,607.92 488.11,609.66 488.38,611.19 488.65,611.58 488.92,611.6 489.19,612.35 489.46,613.39 489.72,614.15 489.99,615.06 490.25,615.34 490.52,615.57 490.78,615.56 491.04,615.58 491.3,616.99 491.56,617.89 491.82,617.63 492.07,618.23 492.33,619.39 492.58,619.71 492.84,619.69 493.09,619.15 493.34,618.91 493.59,619.9 493.84,620.63 494.09,621.82 494.34,622.84 494.59,621.66 494.83,620.88 495.08,621.62 495.32,622.44 495.57,622.85 495.81,622.27 496.05,621.72 496.29,621.78 496.53,622.69 496.77,624.26 497.01,623.98 497.25,622.91 497.48,623.47 497.72,624.39 497.95,623.62 498.19,622.84 498.42,623.81 498.65,624.49 498.88,624.24 499.11,623.45 499.34,622.4 499.57,622.86 499.8,623.4 500.03,622.53 500.25,622.64 500.48,622.47 500.7,621.4 500.93,622.11 501.15,623.17 501.37,623.05 501.6,622.86 501.82,622.71 502.04,621.77 502.26,620.73 502.48,621.1 502.69,620.87 502.91,619.72 503.13,620.33 503.35,620.71 503.56,619.95 503.78,619.66 503.99,619.69 504.2,618.76 504.42,617.84 504.63,618.86 504.84,619.66 505.05,619.28 505.26,619.21 505.47,618.9 505.68,618.09 505.88,617.77 506.09,617.51 506.3,617.04 506.5,617.48 506.71,617.58 506.91,616.6 507.12,615.86 507.32,615.54 507.52,615.55 507.73,615.12 507.93,615.58 508.13,617 508.33,616.74 508.53,614.86 508.73,613.79 508.92,613.87 509.12,612.66 509.32,611.43 509.52,611.36 509.71,611.49 509.91,611.7 510.1,611.33 510.3,610.57 510.49,609.9 510.68,609.59 510.88,609.93 511.07,610.18 511.26,609.56 511.45,609.18 511.64,609.71 511.83,609.39 512.02,608.21 512.21,607.39 512.4,607.52 512.58,607.7 512.77,606.33 512.96,604.54 513.14,604.19 513.33,604.61 513.51,603.62 513.7,602.01 513.88,601.03 514.06,600.18 514.25,600.39 514.43,600.99 514.61,600.64 514.79,600.71 514.97,600.46 515.15,599.73 515.33,600.54 515.51,601.36 515.69,601.38 515.87,601.03 516.05,600.28 516.23,599.9 516.4,599.96 516.58,600.88 516.75,601.6 516.93,601.67 517.11,602.49 517.28,603.14 517.45,603.12 517.63,602.81 517.8,602.91 517.97,603.78 518.15,604.24 518.32,604.97 518.49,606.28 518.66,606.68 518.83,606.21 519,605.91 519.17,606.1 519.34,606.58 519.51,607.4 519.68,608 519.84,608.47 520.01,609.67 520.18,610.46 520.34,610.66 520.51,611.14 520.68,611.36 520.84,611.52 521.01,611.67 521.17,611.89 521.33,612.51 521.5,613.38 521.66,613.94 521.82,613.91 521.99,614 522.15,615.06 522.31,616.63 522.47,616.48 522.63,616.48 522.79,617.76 522.95,617.59 523.11,617.06 523.27,617.95 523.43,618.95 523.59,618.83 523.75,619.17 523.9,619.85 524.06,619.79 524.22,620.18 524.38,621.01 524.53,621.39 524.69,621.42 524.84,621.42 525,621.47 525.15,622.3 525.31,623.47 525.46,623.48 525.61,623.28 525.77,623.79 525.92,623.95 526.07,624.1 526.23,625.55 526.38,626.68 526.53,625.95 526.68,625.32 526.83,625.9 526.98,626.11 527.13,625.76 527.28,626.41 527.43,627.47 527.58,627.56 527.73,627.57 527.88,628.39 528.02,628 528.17,626.34 528.32,626.08 528.47,626.59 528.61,626.93 528.76,628.34 528.91,629.38 529.05,628.35 529.2,627.76 529.34,629.3 529.49,630.32 529.63,629.09 529.78,628.71 529.92,629.91 530.06,630.07 530.21,629.87 530.35,630 530.49,629.99 530.63,630.23 530.78,630.53 530.92,631.43 531.06,632.71 531.2,631.63 531.34,629.72 531.48,630.07 531.62,630.56 531.76,630.26 531.9,630.47 532.04,631.61 532.18,632.73 532.32,633.51 532.45,634.18 532.59,633.4 532.73,633.23 532.87,634.29 533.01,633.63 533.14,632.33 533.28,632.67 533.42,634.09 533.55,635.23 533.69,635.81 533.82,635.22 533.96,633.43 534.09,633.05 534.23,633.99 534.36,633.8 534.5,634.02 534.63,634.17 534.76,634.37 534.9,635.97 535.03,635.91 535.16,634.31 535.29,633.1 535.43,632.61 535.56,633.25 535.69,634.37 535.82,634.5 535.95,634.33 536.08,634.95 536.21,635.64 536.34,636.24 536.47,636.97 536.6,636.61 536.73,635.62 536.86,636.84 536.99,638.09 537.12,637.22 537.25,636.64 537.38,636.12 537.51,635.66 537.63,636.57 537.76,637.61 537.89,637.84 538.02,637.73 538.14,637.63 538.27,636.4 538.39,635.18 538.52,636.59 538.65,637.52 538.77,636.47 538.9,636.35 539.02,636.87 539.15,637 539.27,637.09 539.4,636.98 539.52,636.74 539.64,636.73 539.77,637.35 539.89,638.43 540.01,639.06 540.14,638.88 540.26,638.08 540.38,638.11 540.51,638.77 540.63,637.85 540.75,636.62 540.87,637.77 540.99,639.61 541.11,639.54 541.23,638.99 541.36,639.13 541.48,638.86 541.6,638.53 541.72,639.42 541.84,640.15 541.96,639.74 542.07,639.67 542.19,640.11 542.31,640.87 542.43,641.7 542.55,641.64 542.67,641.29 542.79,642.12 542.9,642.24 543.02,641 543.14,641.18 543.26,641.31 543.37,641.38 543.49,641.75 543.61,640.96 543.72,640.7 543.84,640.9 543.96,640.99 544.07,640.98 544.19,640.95 544.3,641.8 544.42,643.05 544.53,643 544.65,641.44 544.76,640.68 544.88,641.23 544.99,641.36 545.1,641.19 545.22,640.99 545.33,641.45 545.45,642.46 545.56,642.32 545.67,642.12 545.78,642.63 545.9,643.09 546.01,643.39 546.12,643.62 546.23,642.56 546.35,640.41 546.46,640.37 546.57,641.64 546.68,642.38 546.79,644.01 546.9,645.6 547.01,644.94 547.12,642.84 547.23,641.83 547.34,642.81 547.45,643.79 547.56,643.92 547.67,644.38 547.78,644.58 547.89,644.02 548,643.94 548.11,644.37 548.22,644.64 548.33,644.35 548.43,643.2 548.54,642.61 548.65,642.53 548.76,642.78 548.87,644.02 548.97,644.6 549.08,644.65 549.19,644.42 549.29,643.78 549.4,643.23 549.51,643.32 549.61,644.59 549.72,645.34 549.83,644.74 549.93,644.43 550.04,644.46 550.14,643.47 550.25,643.51 550.35,644.83 550.46,644.49 550.56,644.49 550.67,645.63 550.77,645.37 550.88,645.4 550.98,645.49 551.09,644.43 551.19,644.54 551.29,645.14 551.4,644.72 551.5,644.27 551.6,644.23 551.71,644.43 551.81,645.22 551.91,646.17 552.01,646.06 552.12,646.47 552.22,646.64 552.32,645.16 552.42,645.49 552.52,647.15 552.63,647.25 552.73,646.2 552.83,645.9 552.93,646.39 553.03,646.7 553.13,646.98 553.23,646.87 553.33,646.6 553.43,646.34 553.53,645.95 553.63,646.01 553.73,646.06 553.83,645.52 553.93,645.1 554.03,645.44 554.13,646.12 554.23,646.79 554.33,647.26 554.43,646.85 554.53,646.18 554.62,646.4 554.72,647.37 554.82,648.35 554.92,648.22 555.02,646.8 555.11,645.93 555.21,646.8 555.31,647.88 555.41,647.58 555.5,647.31 555.6,647.56 555.7,647.31 555.8,647.51 555.89,648.33 555.99,648.17 556.08,647.08 556.18,647.16 556.28,648.27 556.37,648.17 556.47,647.03 556.56,646.93 556.66,647.04 556.76,646.73 556.85,647.69 556.95,648.17 557.04,647.43 557.14,647.43 557.23,647.65 557.32,648.09 557.42,649.02 557.51,649.21 557.61,648.06 557.7,647.48 557.79,647.82 557.89,647.45 557.98,647.93 558.08,648.81 558.17,648.25 558.26,648.11 558.36,649.49 558.45,650.04 558.54,649.28 558.63,648.94 558.73,649.22 558.82,649.75 558.91,649.6 559,649.72 559.09,650.03 559.19,649.29 559.28,648.87 559.37,649.48 559.46,649.72 559.55,649.69 559.64,649.81 559.73,648.96 559.83,647.82 559.92,647.32 560.01,647.68 560.1,648.39 560.19,648.76 560.28,649.46 560.37,649.55 560.46,648.44 560.55,648.44 560.64,649.67 560.73,649.67 560.82,648.5 560.91,648.88 561,649.8 561.09,648.71 561.18,647.92 561.26,648.71 561.35,649.4 561.44,649.93 561.53,649.8 561.62,648.03 561.71,647.11 561.8,648.59 561.88,649.5 561.97,649.36 562.06,649.48 562.15,649.14 562.24,649.38 562.32,650.68 562.41,651.05 562.5,650.09 562.58,649.34 562.67,649.11 562.76,649.57 562.85,650.44 562.93,650.47 563.02,650.37 563.11,650.21 563.19,650.28 563.28,650.88 563.36,651.17 563.45,651.09 563.54,650.84 563.62,651.03 563.71,650.95 563.79,650.66 563.88,650.43 563.96,650.13 564.05,650.26 564.14,650.07 564.22,650.43 564.31,651.29 564.39,651.42 564.47,651.43 564.56,651.32 564.64,650.39 564.73,649.72 564.81,649.88 564.9,649.7 564.98,650.42 565.06,652.4 565.15,652.7 565.23,651.93 565.32,651.83 565.4,650.8 565.48,649.89 565.57,650.46 565.65,651.14 565.73,651.23 565.82,651.11 565.9,651.43 565.98,651.75 566.06,651.21 566.15,650.74 566.23,651.12 566.31,651.61 566.39,652.2 566.48,652.68 566.56,652.6 566.64,651.74 566.72,650.87 566.8,651.13 566.88,651.46 566.97,651.33 567.05,651.39 567.13,651.28 567.21,651.03 567.29,651.95 567.37,653.57 567.45,653.1 567.53,651.59 567.62,650.69 567.7,650.25 567.78,651.28 567.86,651.68 567.94,650.72 568.02,650.22 568.1,650.12 568.18,650.89 568.26,651.57 568.34,651.72 568.42,652.35 568.5,652.7 568.58,652.56 568.66,652.04 568.74,651.69 568.81,651.97 568.89,652.15 568.97,651.99 569.05,652.6 569.13,653.78 569.21,653.17 569.29,652.48 569.37,652.51 569.45,651.79 569.52,651.27 569.6,650.94 569.68,650.93 569.76,651.56 569.84,652.56 569.91,653.2 569.99,653.03 570.07,652.67 570.15,652.54 570.23,651.59 570.3,651.03 570.38,652.09 570.46,652.38 570.53,652.5 570.61,652.52 570.69,651.98 570.77,652.65 570.84,653.27 570.92,652.8 571,653.32 571.07,654.06 571.15,653.6 571.23,653.6 571.3,653.41 571.38,652.54 571.45,652.46 571.53,652.1 571.61,651.23 571.68,651.97 571.76,653.01 571.83,652.93 571.91,653.62 571.98,654.98 572.06,655.22 572.14,653.7 572.21,652.05 572.29,652.46 572.36,653.42 572.44,653.13 572.51,652.51 572.59,652.08 572.66,651.58 572.74,651.36 572.81,651.71 572.88,652.48 572.96,653.05 573.03,653.36 573.11,654.02 573.18,654.63 573.26,654.52 573.33,654.29 573.4,653.58 573.48,652.54 573.55,652.24 573.62,652.05 573.7,651.96 573.77,652.04 573.84,652.53 573.92,653.14 573.99,653.13 574.06,653.51 574.14,653.47 574.21,652.03 574.28,651.87 574.36,652.78 574.43,652.32 574.5,652.61 574.57,653.71 574.65,653.5 574.72,653.06 574.79,653.29 574.86,654.13 574.94,654.58 575.01,653.73 575.08,652.74 575.15,652.57 575.22,652.54 575.3,653.02 575.37,654 575.44,653.95 575.51,653.15 575.58,652.87 575.65,653.11 575.72,653.3 575.8,652.78 575.87,653.05 575.94,654.6 576.01,653.74 576.08,652.06 576.15,653.47 576.22,655 576.29,654.92 576.36,655.07 576.43,654.8 576.5,653.41 576.57,652.52 576.64,652.82 576.72,653 576.79,652.98 576.86,653.8 576.93,654.57 577,654.27 577.07,653.94 577.14,654.36 577.2,654.75 577.27,655.08 577.34,655.61 577.41,655.36 577.48,654.66 577.55,654.4 577.62,653.76 577.69,653.08 577.76,653.5 577.83,654.51 577.9,655.39 577.97,655.23 578.04,654.64 578.1,654.57 578.17,654.63 578.24,654.81 578.31,654.58 578.38,653.95 578.45,653.78 578.52,654.37 578.58,654.64 578.65,654.28 578.72,653.65 578.79,653.28 578.86,654.16 578.92,654.96 578.99,654.65 579.06,654.12 579.13,653.87 579.19,654.36 579.26,654.32 579.33,652.6 579.4,652.37 579.46,654.29 579.53,655.29 579.6,654.68 579.67,654.95 579.73,655.93 579.8,655.82 579.87,655.42 579.93,654.29 580,653.12 580.07,653.93 580.13,654.81 580.2,653.87 580.27,653.65 580.33,654.4 580.4,653.91 580.47,653.56 580.53,654.38 580.6,655 580.67,654.69 580.73,654.84 580.8,655.31 580.86,654.82 580.93,654.6 580.99,655 581.06,655.88 581.13,656.18 581.19,655.23 581.26,654.99 581.32,655.43 581.39,655.17 581.45,654.63 581.52,654.3 581.58,654.46 581.65,654.69 581.71,654.2 581.78,653.82 581.84,654.52 581.91,654.35 581.97,653.52 582.04,653.94 582.1,654.68 582.17,655.14 582.23,655.84 582.3,656.41 582.36,655.9 582.43,655.9 582.49,656.73 582.55,656.1 582.62,654.56 582.68,654.85 582.75,655.3 582.81,654.55 582.87,655.03 582.94,655.46 583,655.41 583.07,656.33 583.13,656.84 583.19,655.76 583.26,654.22 583.32,654.59 583.38,655.47 583.45,654.83 583.51,654.53 583.57,654.78 583.64,654.81 583.7,655.21 583.76,656.04 583.83,656.4 583.89,656.12 583.95,655.49 584.01,655.33 584.08,655.3 584.14,654.77 584.2,655.33 584.27,655.63 584.33,654.83 584.39,654.85 584.45,655.73 584.51,656.49 584.58,656.9 584.64,656.36 584.7,654.71 584.76,653.54 584.83,653.5 584.89,654.24 584.95,654.69 585.01,654.4 585.07,654.54 585.14,655.11 585.2,654.49 585.26,654.37 585.32,656.31 585.38,657.3 585.44,656.31 585.5,654.83 585.57,654.48 585.63,655.04 585.69,655.13 585.75,655.16 585.81,655.47 585.87,655.76 585.93,655.7 585.99,655.12 586.05,653.96 586.12,654.22 586.18,655.82 586.24,655.79 586.3,655.03 586.36,654.52 586.42,654.23 586.48,654.39 586.54,655.08 586.6,656.55 586.66,656.52 586.72,654.62 586.78,654.53 586.84,655.41 586.9,654.84 586.96,655.58 587.02,656.8 587.08,656.22 587.14,655.63 587.2,655.44 587.26,656 587.32,656.97 587.38,657.09 587.44,656.03 587.5,655.32 587.56,656.47 587.62,656.5 587.68,654.26 587.74,653.5 587.8,654.83 587.86,656.31 587.91,657.36 587.97,657.13 588.03,655.52 588.09,655.07 588.15,656.09 588.21,656.27 588.27,656.1 588.33,655.93 588.39,654.86 588.44,654.45 588.5,655.28 588.56,655.12 588.62,654.92 588.68,655.75 588.74,656.55 588.8,656.5 588.85,655.8 588.91,656.13 588.97,656.53 589.03,656.4 589.09,656.86 589.14,657.06 589.2,656 589.26,655.11 589.32,655.42 589.38,656.19 589.43,657.49 589.49,657.22 589.55,655.56 589.61,656.19 589.67,657.25 589.72,656.42 589.78,656.25 589.84,657.33 589.9,657.17 589.95,656.5 590.01,656.34 590.07,655.51 590.12,654.99 590.18,655.6 590.24,656.26 590.3,656.51 590.35,656.62 590.41,656.33 590.47,656.06 590.52,655.9 590.58,654.69 590.64,654.22 590.69,655.53 590.75,655.84 590.81,655.28 590.86,655.55 590.92,656.31 590.98,656.28 591.03,655.47 591.09,655.27 591.15,655.95 591.2,656.41 591.26,655.82 591.31,655.56 591.37,655.9 591.43,655.14 591.48,655.21 591.54,656.63 591.59,656.94 591.65,657.38 591.71,657.75 591.76,656.77 591.82,656.02 591.87,656.52 591.93,657.64 591.98,657.95 592.04,657.25 592.1,656.85 592.15,657.48 592.21,657.12 592.26,656 592.32,656.44 592.37,657.01 592.43,657.07 592.48,657.02 592.54,656.72 592.59,656.43 592.65,656.55 592.7,657.59 592.76,657.25 592.81,655.68 592.87,655.61 592.92,655.59 592.98,655.24 593.03,655.72 593.09,656.85 593.14,658.16 593.2,657.86 593.25,656.2 593.31,655.56 593.36,656.52 593.41,658.28 593.47,659.01 593.52,658.48 593.58,657.73 593.63,657.25 593.69,656.7 593.74,656.07 593.79,656.68 593.85,656.91 593.9,656.08 593.96,656.38" stroke="#21918c"/>
<polyline points="96.5,486.12 129.89,486.26 175.19,487.12 201.69,491.65 220.5,502.64 235.08,518.89 247,523.42 257.08,527.9 265.8,532.67 273.5,536.78 280.39,538.57 286.62,541.03 292.31,545.55 297.54,547.76 302.38,547.88 306.89,550.46 311.11,553.7 315.07,555.15 318.81,557.05 322.34,559.1 325.69,559.75 328.88,560.77 331.92,563.17 334.83,564.86 337.61,566.01 340.28,566.3 342.84,566.46 345.31,566.64 347.69,566.28 349.98,562.93 352.19,560 354.34,557.09 356.41,552.03 358.42,547.41 360.38,540.01 362.27,534.69 364.11,524.32 365.9,518.31 367.65,520.53 369.34,524.87 371,529.95 372.61,536.26 374.19,541.43 375.73,543.42 377.23,546.34 378.7,548.54 380.13,550.38 381.54,551.63 382.92,552.59 384.26,552.89 385.58,552.26 386.88,551.34 388.15,549.87 389.39,547.33 390.61,544.89 391.81,543.5 392.99,542.32 394.15,540.53 395.28,539.41 396.4,541 397.5,544.13 398.58,549.48 399.64,555.82 400.69,559.27 401.72,561.42 402.73,563.18 403.73,565.31 404.71,567.57 405.68,569.77 406.64,571.76 407.58,573.76 408.5,575.43 409.42,576.35 410.32,577.76 411.21,579.58 412.08,581.27 412.95,583.19 413.81,584.04 414.65,585.43 415.48,586.44 416.3,586.74 417.12,587.28 417.92,587.89 418.71,587.75 419.49,586.99 420.27,586.25 421.03,586.97 421.79,588.54 422.53,589.43 423.27,590.13 424,590.68 424.72,591.38 425.44,592.1 426.14,592.8 426.84,593.41 427.54,593.27 428.22,593.77 428.9,594.72 429.57,594.54 430.23,594.45 430.89,594.96 431.54,594.9 432.18,594.44 432.82,594.99 433.45,596.5 434.08,596.87 434.7,596.08 435.31,595.94 435.92,596.62 436.52,597.82 437.12,599.23 437.71,598.93 438.3,598.04 438.88,598.08 439.45,598.39 440.02,599.72 440.59,601.21 441.15,601.51 441.71,600.84 442.26,600.01 442.81,599.87 443.35,601.01 443.89,602.67 444.42,603.47 444.95,602.88 445.47,602.06 445.99,601.96 446.51,602.11 447.02,602.81 447.53,603.63 448.04,603.93 448.54,604.82 449.03,605.23 449.53,604.36 450.02,605 450.5,606.24 450.99,606.03 451.46,605.6 451.94,605.23 452.41,606.5 452.88,608.49 453.35,607.44 453.81,606.59 454.27,608.56 454.72,609.56 455.17,608.58 455.62,608.01 456.07,608.73 456.51,609.76 456.95,609.81 457.39,609.14 457.82,608.23 458.26,607.9 458.68,609.26 459.11,611.4 459.53,611.96 459.95,610.79 460.37,610.63 460.79,611.55 461.2,611.76 461.61,611.94 462.02,612.65 462.42,612.38 462.82,611.83 463.22,611.53 463.62,611.44 464.01,612.19 464.41,612.46 464.8,612.89 465.19,614.05 465.57,614.06 465.95,613.21 466.34,613.25 466.71,613.77 467.09,613.57 467.47,614.12 467.84,615.75 468.21,616.55 468.58,616.1 468.94,615.09 469.31,614.45 469.67,614.17 470.03,614.56 470.39,615.08 470.74,614.66 471.1,614.55 471.45,615.04 471.8,615.95 472.15,616.78 472.5,616.9 472.84,617.52 473.18,617.99 473.53,617.44 473.86,617.02 474.2,617.23 474.54,617.89 474.87,618.19 475.21,618.06 475.54,618.67 475.87,619.07 476.19,617.89 476.52,617.17 476.84,618.35 477.17,618.72 477.49,617.19 477.81,616.9 478.13,618.26 478.44,618.84 478.76,617.6 479.07,616.56 479.38,617.33 479.69,617.95 480,618.87 480.31,620.44 480.62,620.79 480.92,620.03 481.22,618.99 481.53,618 481.83,617.61 482.13,618.21 482.42,618.44 482.72,618.07 483.01,616.93 483.31,615.6 483.6,615.3 483.89,614.63 484.18,614.38 484.47,614.69 484.76,614.18 485.04,613.67 485.33,613.07 485.61,612.35 485.89,612.11 486.18,611.25 486.46,610 486.73,609.6 487.01,608.66 487.29,607.6 487.56,607.69 487.84,607.79 488.11,607.89 488.38,608.3 488.65,609.77 488.92,611.36 489.19,611.59 489.46,613.25 489.72,615.65 489.99,616.56 490.25,616.93 490.52,617.35 490.78,618.2 491.04,618.28 491.3,617.59 491.56,617.91 491.82,618.79 492.07,619.02 492.33,618.99 492.58,619.17 492.84,619.55 493.09,619.64 493.34,620.11 493.59,621.37 493.84,621.51 494.09,621.11 494.34,621.57 494.59,622.06 494.83,622.02 495.08,621.35 495.32,621.08 495.57,621.94 495.81,622.44 496.05,622.38 496.29,623.32 496.53,624.07 496.77,623.43 497.01,623.25 497.25,623.26 497.48,622.72 497.72,622.96 497.95,624.19 498.19,625.4 498.42,625.02 498.65,623.64 498.88,622.88 499.11,622.56 499.34,622.71 499.57,623.51 499.8,624.18 500.03,623.91 500.25,623.44 500.48,623.03 500.7,622.66 500.93,623.52 501.15,623.9 501.37,623.35 501.6,622.55 501.82,621.48 502.04,621.64 502.26,621.81 502.48,621.66 502.69,622.3 502.91,623.05 503.13,622.3 503.35,620.14 503.56,618.46 503.78,618.69 503.99,619.95 504.2,619.81 504.42,618.99 504.63,618.86 504.84,618.87 505.05,618.2 505.26,617.53 505.47,617.16 505.68,617.02 505.88,617.02 506.09,616.93 506.3,616.82 506.5,617.23 506.71,618.28 506.91,617.89 507.12,616.9 507.32,615.94 507.52,614.72 507.73,614.48 507.93,614.14 508.13,614.02 508.33,615.14 508.53,614.63 508.73,612.81 508.92,613.34 509.12,614.26 509.32,613.59 509.52,612.51 509.71,610.91 509.91,610.44 510.1,610.75 510.3,610.44 510.49,610.31 510.68,609.58 510.88,609.09 511.07,609.82 511.26,610.24 511.45,610.23 511.64,610.22 511.83,609.7 512.02,608.4 512.21,606.92 512.4,607.35 512.58,607.54 512.77,605.41 512.96,604.23 513.14,603.43 513.33,601.81 513.51,601.56 513.7,602.31 513.88,603.44 514.06,603.7 514.25,601.53 514.43,600.21 514.61,601.19 514.79,601.66 514.97,601.45 515.15,601.5 515.33,600.65 515.51,599.32 515.69,599.07 515.87,599.85 516.05,600.3 516.23,599.89 516.4,600.04 516.58,601.6 516.75,602.96 516.93,603.4 517.11,603.74 517.28,603.67 517.45,603.14 517.63,602.93 517.8,603.28 517.97,603.92 518.15,604.34 518.32,604.15 518.49,603.97 518.66,604.02 518.83,604.58 519,605.98 519.17,606.3 519.34,605.84 519.51,606.55 519.68,607.61 519.84,608.01 520.01,608.24 520.18,609.37 520.34,610.36 520.51,610.43 520.68,610.3 520.84,610.34 521.01,610.94 521.17,611.52 521.33,611.79 521.5,612.28 521.66,612.59 521.82,613.06 521.99,614.34 522.15,615.1 522.31,614.96 522.47,614.81 522.63,615.1 522.79,615.79 522.95,616.86 523.11,618.07 523.27,618.72 523.43,618.87 523.59,618.93 523.75,618.88 523.9,618.78 524.06,619.17 524.22,620.4 524.38,621.8 524.53,622.28 524.69,621.89 524.84,621.09 525,620.86 525.15,621.34 525.31,621.13 525.46,621.83 525.61,623.36 525.77,623.09 525.92,622.54 526.07,623.17 526.23,623.98 526.38,624.55 526.53,625.34 526.68,625.78 526.83,625.18 526.98,624.84 527.13,625.46 527.28,625.89 527.43,626.61 527.58,627.37 527.73,627.04 527.88,627.11 528.02,627.67 528.17,627.89 528.32,628.64 528.47,629.05 528.61,628.68 528.76,629.08 528.91,630.2 529.05,630.53 529.2,629.68 529.34,629.37 529.49,629.74 529.63,630.32 529.78,630.8 529.92,630.21 530.06,629.72 530.21,630.3 530.35,630.9 530.49,630.87 530.63,630.41 530.78,630.16 530.92,630.55 531.06,631.35 531.2,631.64 531.34,630.89 531.48,630.84 531.62,631.66 531.76,631.71 531.9,631.81 532.04,632.76 532.18,632.82 532.32,632.52 532.45,633.38 532.59,633.5 532.73,632.8 532.87,632.64 533.01,633.18 533.14,633.34 533.28,632.94 533.42,633.32 533.55,633.77 533.69,633.48 533.82,633.17 533.96,633.5 534.09,634.31 534.23,634.75 534.36,635.11 534.5,635.27 534.63,634.71 534.76,633.96 534.9,633.91 535.03,634.65 535.16,634.61 535.29,634.37 535.43,635.04 535.56,635.44 535.69,635.72 535.82,636.49 535.95,636.35 536.08,635.39 536.21,635.5 536.34,636.53 536.47,637.07 536.6,636.23 536.73,635.92 536.86,637.21 536.99,637.23 537.12,635.69 537.25,634.8 537.38,635.44 537.51,636.58 537.63,637.08 537.76,637.26 537.89,637.24 538.02,637.31 538.14,636.91 538.27,636.33 538.39,636.93 538.52,637.68 538.65,637.69 538.77,637.79 538.9,638.1 539.02,637.81 539.15,637.01 539.27,637.56 539.4,639.57 539.52,640.33 539.64,639.38 539.77,637.42 539.89,636.43 540.01,637.58 540.14,638.14 540.26,638.8 540.38,640.25 540.51,641.04 540.63,641.23 540.75,640.26 540.87,639.64 540.99,639.64 541.11,639.45 541.23,639.28 541.36,638.87 541.48,639 541.6,638.43 541.72,637.89 541.84,638.83 541.96,639.61 542.07,639.7 542.19,639.02 542.31,638.85 542.43,639.31 542.55,638.85 542.67,638.26 542.79,638.76 542.9,639.91 543.02,640.09 543.14,640.27 543.26,641.45 543.37,641.43 543.49,640.39 543.61,639.55 543.72,638.71 543.84,638.9 543.96,639.98 544.07,641.1 544.19,641.97 544.3,641.7 544.42,641.22 544.53,641.37 544.65,641.22 544.76,641.35 544.88,642.19 544.99,642.96 545.1,642.72 545.22,641.92 545.33,642.74 545.45,643.17 545.56,642.06 545.67,641.52 545.78,641.57 545.9,641.28 546.01,640.55 546.12,640.93 546.23,641.91 546.35,642.31 546.46,642.25 546.57,641.29 546.68,641.01 546.79,642.6 546.9,643.39 547.01,642.33 547.12,642.37 547.23,643.79 547.34,644.3 547.45,643.74 547.56,642.83 547.67,642.82 547.78,643.91 547.89,644.05 548,643.94 548.11,644.34 548.22,643.74 548.33,642.68 548.43,641.88 548.54,642.41 548.65,643.8 548.76,644.2 548.87,644.31 548.97,644.4 549.08,643.74 549.19,643.76 549.29,644.8 549.4,644.22 549.51,642.87 549.61,643.4 549.72,644.82 549.83,645.43 549.93,645.78 550.04,645.41 550.14,644.17 550.25,644.29 550.35,645.52 550.46,646 550.56,645.62 550.67,644.6 550.77,643.9 550.88,644.5 550.98,644.58 551.09,643.9 551.19,644.2 551.29,645.69 551.4,646.19 551.5,644.71 551.6,644.43 551.71,645.37 551.81,645.85 551.91,646.37 552.01,646.89 552.12,646.63 552.22,645.49 552.32,644.95 552.42,645.02 552.52,644.85 552.63,645.01 552.73,645.79 552.83,646.17 552.93,645.33 553.03,644.64 553.13,644.65 553.23,645.07 553.33,646.29 553.43,646.51 553.53,645.81 553.63,646.08 553.73,646.34 553.83,646.33 553.93,646.48 554.03,646.76 554.13,647.53 554.23,647.25 554.33,645.74 554.43,646.43 554.53,648.22 554.62,648.37 554.72,648.08 554.82,648.57 554.92,648.65 555.02,646.76 555.11,645.63 555.21,646.27 555.31,646.34 555.41,646.78 555.5,647.31 555.6,647.29 555.7,648.12 555.8,648.32 555.89,647.26 555.99,646.49 556.08,646.85 556.18,647.71 556.28,648 556.37,647.67 556.47,647.19 556.56,646.53 556.66,646.1 556.76,646.62 556.85,647.46 556.95,647.26 557.04,646.62 557.14,647.1 557.23,647.15 557.32,646.08 557.42,646 557.51,647.05 557.61,648.1 557.7,648.15 557.79,647.72 557.89,647.73 557.98,647.93 558.08,648.38 558.17,648.31 558.26,647.92 558.36,648 558.45,648.02 558.54,648.45 558.63,649.48 558.73,649.7 558.82,648.38 558.91,647.39 559,648.37 559.09,649.56 559.19,649.44 559.28,648.5 559.37,648.1 559.46,648.57 559.55,648.56 559.64,648.65 559.73,649.41 559.83,649.77 559.92,649.66 560.01,649.37 560.1,649.53 560.19,649.72 560.28,648.67 560.37,648.02 560.46,647.99 560.55,647.76 560.64,648.9 560.73,650.25 560.82,649.73 560.91,649.26 561,650.11 561.09,650.3 561.18,649.37 561.26,649.13 561.35,649.73 561.44,650.06 561.53,650.23 561.62,650.22 561.71,649.53 561.8,649.53 561.88,650.6 561.97,650 562.06,648.68 562.15,648.99 562.24,649.35 562.32,649.6 562.41,650.75 562.5,651.73 562.58,652.08 562.67,651.53 562.76,650.09 562.85,649.55 562.93,650.34 563.02,650.62 563.11,649.92 563.19,649.55 563.28,650.51 563.36,651.7 563.45,652.22 563.54,652.2 563.62,651.37 563.71,651.12 563.79,650.65 563.88,649.17 563.96,648.86 564.05,649.61 564.14,650.12 564.22,650.55 564.31,650.96 564.39,650.2 564.47,649.64 564.56,650.86 564.64,651.42 564.73,650.55 564.81,649.8 564.9,650.24 564.98,651.25 565.06,651.37 565.15,651.54 565.23,651.83 565.32,651.48 565.4,650.95 565.48,650.37 565.57,650.67 565.65,651.41 565.73,651.41 565.82,651.54 565.9,651.86 565.98,651.34 566.06,650.75 566.15,651.72 566.23,652.84 566.31,652.11 566.39,650.24 566.48,649.9 566.56,651.44 566.64,652.09 566.72,652.23 566.8,652.36 566.88,651.66 566.97,651.26 567.05,650.53 567.13,649.95 567.21,650.67 567.29,650.81 567.37,650.95 567.45,651.97 567.53,651.73 567.62,650.53 567.7,650.59 567.78,651.74 567.86,652.14 567.94,651.34 568.02,650.34 568.1,649.58 568.18,649.76 568.26,650.69 568.34,651.39 568.42,651.95 568.5,652.18 568.58,651.84 568.66,651.46 568.74,651.07 568.81,650.92 568.89,651.63 568.97,652.05 569.05,651.17 569.13,651.03 569.21,652.02 569.29,651.96 569.37,651.46 569.45,651.45 569.52,651.71 569.6,652.16 569.68,651.77 569.76,650.54 569.84,651 569.91,653.58 569.99,654.45 570.07,653.18 570.15,652.88 570.23,653.56 570.3,653.6 570.38,652.78 570.46,652.58 570.53,652.58 570.61,651.23 570.69,650.02 570.77,650.28 570.84,651.39 570.92,652.25 571,652.31 571.07,652.03 571.15,651.66 571.23,651.88 571.3,652.33 571.38,652.59 571.45,652.77 571.53,651.93 571.61,651.58 571.68,652.33 571.76,653.13 571.83,653.47 571.91,652.48 571.98,652.29 572.06,652.69 572.14,652.02 572.21,652.85 572.29,654.59 572.36,654.22 572.44,652.95 572.51,652.51 572.59,652.89 572.66,653.77 572.74,653.33 572.81,652.67 572.88,652.99 572.96,653.01 573.03,653.03 573.11,652.93 573.18,652.05 573.26,651.96 573.33,653.02 573.4,652.66 573.48,652.45 573.55,653.56 573.62,652.81 573.7,651.3 573.77,652.81 573.84,655.11 573.92,655.14 573.99,654.53 574.06,654.02 574.14,654 574.21,654.35 574.28,654.11 574.36,653.7 574.43,654 574.5,654.36 574.57,653.83 574.65,653.61 574.72,653.6 574.79,653.65 574.86,654.2 574.94,654.01 575.01,653.18 575.08,652.88 575.15,653.76 575.22,654.8 575.3,654.14 575.37,652.55 575.44,652.96 575.51,654.37 575.58,654.67 575.65,654 575.72,652.89 575.8,653.66 575.87,654.99 575.94,654.05 576.01,653.11 576.08,653.35 576.15,653.56 576.22,653.71 576.29,653.7 576.36,653.92 576.43,654.21 576.5,653.87 576.57,653.72 576.64,654.16 576.72,654.81 576.79,654.84 576.86,653.89 576.93,654.19 577,655.61 577.07,654.78 577.14,652.98 577.2,653.21 577.27,653.79 577.34,653.75 577.41,654.6 577.48,654.34 577.55,653.21 577.62,653.85 577.69,655.04 577.76,655.75 577.83,655.87 577.9,655.42 577.97,655.36 578.04,655.18 578.1,654.26 578.17,654.34 578.24,655.03 578.31,654.67 578.38,653.46 578.45,653.12 578.52,653.51 578.58,652.79 578.65,652.2 578.72,652.76 578.79,654.21 578.86,655.08 578.92,654.59 578.99,654.39 579.06,655.08 579.13,655.77 579.19,655.21 579.26,654.72 579.33,654.93 579.4,654.02 579.46,653.14 579.53,654 579.6,654.08 579.67,653.85 579.73,655.53 579.8,655.8 579.87,654.8 579.93,655.64 580,656.3 580.07,654.92 580.13,654.21 580.2,654.37 580.27,653.71 580.33,653.37 580.4,654.18 580.47,655.31 580.53,654.65 580.6,652.87 580.67,652.27 580.73,653.09 580.8,654.19 580.86,654.82 580.93,654.73 580.99,654.44 581.06,654.82 581.13,655.65 581.19,656.7 581.26,655.94 581.32,654.07 581.39,654.08 581.45,655.42 581.52,656.3 581.58,654.91 581.65,653.94 581.71,656.01 581.78,657.11 581.84,656.01 581.91,655.4 581.97,655.68 582.04,656.34 582.1,656.74 582.17,656.05 582.23,654.95 582.3,654.48 582.36,654.79 582.43,655.24 582.49,655.1 582.55,655.07 582.62,654.77 582.68,654.32 582.75,654.8 582.81,655.85 582.87,656.31 582.94,655.32 583,654.72 583.07,655.27 583.13,655.97 583.19,656.82 583.26,656.51 583.32,654.84 583.38,654.18 583.45,655.48 583.51,656.55 583.57,656.55 583.64,656.48 583.7,655.23 583.76,653.82 583.83,654.36 583.89,654.84 583.95,654.67 584.01,655 584.08,655.05 584.14,654.82 584.2,655.38 584.27,655.88 584.33,654.97 584.39,655.2 584.45,657.52 584.51,658.3 584.58,656.35 584.64,654.57 584.7,654.54 584.76,654.65 584.83,654.39 584.89,654.75 584.95,655.69 585.01,655.86 585.07,655.1 585.14,654.62 585.2,654.65 585.26,655.13 585.32,655.24 585.38,654.64 585.44,654.33 585.5,655.41 585.57,656.5 585.63,656.49 585.69,656.74 585.75,656.41 585.81,655.82 585.87,655.8 585.93,655.89 585.99,655.82 586.05,655.36 586.12,655.49 586.18,656.86 586.24,657.87 586.3,656.79 586.36,655.74 586.42,655.81 586.48,655.69 586.54,656.02 586.6,655.97 586.66,654.52 586.72,654.06 586.78,655.12 586.84,655.35 586.9,655.44 586.96,656.54 587.02,656.33 587.08,654.84 587.14,654.8 587.2,655.97 587.26,656.28 587.32,656.21 587.38,656.74 587.44,656.64 587.5,656.92 587.56,657.33 587.62,655.91 587.68,654.61 587.74,655.23 587.8,656.85 587.86,657.47 587.91,657.26 587.97,656.26 588.03,655.14 588.09,655.87 588.15,656.3 588.21,655.62 588.27,654.91 588.33,655.03 588.39,655.78 588.44,655.55 588.5,655.85 588.56,656.59 588.62,656.68 588.68,656.24 588.74,655.49 588.8,655.48 588.85,654.99 588.91,654.85 588.97,656.22 589.03,656.74 589.09,656.53 589.14,656.32 589.2,655.62 589.26,655.79 589.32,656.69 589.38,656.48 589.43,656.23 589.49,656.17 589.55,655.6 589.61,656.04 589.67,656.77 589.72,656.18 589.78,654.92 589.84,654.42 589.9,654.6 589.95,655.1 590.01,655.17 590.07,654.6 590.12,654.85 590.18,655.34 590.24,655.27 590.3,655.28 590.35,655.72 590.41,656.71 590.47,656.6 590.52,655.71 590.58,657.11 590.64,658.41 590.69,656.75 590.75,654.62 590.81,654.84 590.86,656.09 590.92,656.24 590.98,656.84 591.03,657.76 591.09,657.07 591.15,655.73 591.2,655.73 591.26,657.5 591.31,658.86 591.37,658.08 591.43,656.57 591.48,656.06 591.54,656.11 591.59,656.27 591.65,657.01 591.71,657.26 591.76,656.35 591.82,655.69 591.87,655.35 591.93,655.7 591.98,657.64 592.04,659.12 592.1,657.72 592.15,655.82 592.21,656.14 592.26,656.45 592.32,656.02 592.37,654.76 592.43,654.06 592.48,655.72 592.54,656.97 592.59,656.86 592.65,656.32 592.7,656.36 592.76,656.52 592.81,655.49 592.87,655.05 592.92,655.82 592.98,656.52 593.03,657.32 593.09,657.56 593.14,657.01 593.2,657.19 593.25,656.91 593.31,656.36 593.36,657.07 593.41,656.98 593.47,655.5 593.52,655.21 593.58,656.03 593.63,656.29 593.69,656.53 593.74,656.38 593.79,656.52 593.85,656.87 593.9,655.63 593.96,654.93" stroke="#5ec962"/>
<polyline points="96.5,484.99 129.89,485.19 175.19,486.46 201.69,490.05 220.5,499.64 235.08,509.83 247,519.43 257.08,526.2 265.8,531.65 273.5,536.78 280.39,538.57 286.62,541.03 292.31,545.56 297.54,547.34 302.38,547.53 306.89,549.98 311.11,553.6 315.07,556.2 318.81,557.79 322.34,558.91 325.69,559.73 328.88,561.46 331.92,563.19 334.83,564.13 337.61,565.72 340.28,565.52 342.84,565.01 345.31,565.18 347.69,565.25 349.98,562.39 352.19,560.18 354.34,557.34 356.41,551.5 358.42,546.69 360.38,539.38 362.27,534.48 364.11,524.85 365.9,519.51 367.65,521.79 369.34,525.91 371,530.46 372.61,536.38 374.19,540.85 375.73,542.61 377.23,545.94 378.7,548.08 380.13,550.06 381.54,551.94 382.92,553.29 384.26,553.91 385.58,553.84 386.88,552.94 388.15,551.11 389.39,549.04 390.61,547.51 391.81,546.22 392.99,544.69 394.15,543.74 395.28,543.37 396.4,543.6 397.5,546.06 398.58,552.08 399.64,558.06 400.69,560.51 401.72,562.85 402.73,565.71 403.73,567.99 404.71,569.82 405.68,571.72 406.64,573.15 407.58,574.5 408.5,575.9 409.42,577.22 410.32,578.88 411.21,580.52 412.08,581.75 412.95,582.52 413.81,583.41 414.65,584.62 415.48,585.59 416.3,586.48 417.12,586.91 417.92,586.35 418.71,585.6 419.49,586.34 420.27,587.26 421.03,587.31 421.79,588.07 422.53,589.5 423.27,590.86 424,591.62 424.72,591.63 425.44,592.44 426.14,593.85 426.84,593.35 427.54,591.95 428.22,592.32 428.9,593.22 429.57,593.95 430.23,594.57 430.89,594.29 431.54,594.37 432.18,595.2 432.82,595.28 433.45,595.5 434.08,596.51 434.7,597.25 435.31,597.52 435.92,597.56 436.52,597.57 437.12,597.84 437.71,598.11 438.3,598.08 438.88,599.15 439.45,600.59 440.02,600.58 440.59,600.35 441.15,600.24 441.71,599.38 442.26,599.39 442.81,601.13 443.35,602.6 443.89,602.85 444.42,603.54 444.95,604.07 445.47,602.52 445.99,601.72 446.51,602.85 447.02,602.99 447.53,603.26 448.04,604.75 448.54,605.17 449.03,604.72 449.53,605.21 450.02,606.07 450.5,606.06 450.99,605.69 451.46,606.22 451.94,607.55 452.41,607.95 452.88,607.72 453.35,607.44 453.81,607.36 454.27,606.99 454.72,606.53 455.17,607.47 455.62,607.76 456.07,607.33 456.51,607.95 456.95,609.25 457.39,610.14 457.82,609.84 458.26,609.39 458.68,609.5 459.11,609.58 459.53,610.15 459.95,611.43 460.37,611.34 460.79,610.55 461.2,611.68 461.61,612.12 462.02,611.21 462.42,612.13 462.82,612.68 463.22,612.3 463.62,613.21 464.01,613.27 464.41,612.66 464.8,612.29 465.19,611.62 465.57,611.4 465.95,611.5 466.34,612.59 466.71,613.97 467.09,614.51 467.47,614.72 467.84,614.75 468.21,614.38 468.58,614.52 468.94,615.72 469.31,616.76 469.67,616.34 470.03,614.9 470.39,614.88 470.74,615.57 471.1,615.36 471.45,615.02 471.8,615.11 472.15,615.5 472.5,616.19 472.84,616.66 473.18,617.4 473.53,617.78 473.86,617.42 474.2,618.22 474.54,618.32 474.87,617.28 475.21,617 475.54,616.5 475.87,615.66 476.19,615.53 476.52,616.51 476.84,617.14 477.17,617.24 477.49,618.34 477.81,618.52 478.13,617.98 478.44,618.5 478.76,619.01 479.07,618.59 479.38,618.86 479.69,619.69 480,618.49 480.31,617.72 480.62,618.39 480.92,618.88 481.22,618.99 481.53,617.33 481.83,616.57 482.13,617.83 482.42,617.94 482.72,617.95 483.01,618.32 483.31,617.94 483.6,617.61 483.89,617.7 484.18,616.44 484.47,614.27 484.76,613.53 485.04,613.18 485.33,612.48 485.61,612.61 485.89,613.27 486.18,612.47 486.46,610.38 486.73,609.69 487.01,610.33 487.29,610.47 487.56,609.84 487.84,609.03 488.11,609.14 488.38,610.27 488.65,611.21 488.92,611.63 489.19,612.61 489.46,613.75 489.72,614.45 489.99,615 490.25,615.03 490.52,615.76 490.78,616.83 491.04,616.94 491.3,617.49 491.56,618.66 491.82,619.69 492.07,620.45 492.33,620.14 492.58,618.91 492.84,618.73 493.09,619.76 493.34,620.07 493.59,619.78 493.84,619.79 494.09,619.85 494.34,619.82 494.59,620.65 494.83,621.71 495.08,622.61 495.32,623.57 495.57,623.11 495.81,622.15 496.05,622.14 496.29,622.3 496.53,621.74 496.77,621.85 497.01,623.2 497.25,623.53 497.48,622.82 497.72,622.52 497.95,622.45 498.19,622.8 498.42,623.29 498.65,622.44 498.88,621.45 499.11,621.55 499.34,622.24 499.57,622.67 499.8,622.54 500.03,623.11 500.25,623.91 500.48,623.45 500.7,622.75 500.93,622.92 501.15,623.01 501.37,622.57 501.6,622.12 501.82,621.75 502.04,621.44 502.26,620.87 502.48,620.35 502.69,620.4 502.91,620.92 503.13,622.43 503.35,623.15 503.56,621.37 503.78,619.86 503.99,620.1 504.2,620.69 504.42,620.27 504.63,619.27 504.84,619.04 505.05,618.46 505.26,617.56 505.47,616.84 505.68,616.46 505.88,616.92 506.09,616.84 506.3,616.86 506.5,617.4 506.71,617.32 506.91,617.38 507.12,617.16 507.32,616.45 507.52,615.56 507.73,614.74 507.93,615.19 508.13,615.36 508.33,614.72 508.53,614.38 508.73,614.08 508.92,614.29 509.12,615.12 509.32,615.36 509.52,613.55 509.71,611.16 509.91,610.67 510.1,611.13 510.3,611.2 510.49,610.67 510.68,610.48 510.88,610.96 511.07,610.82 511.26,609.55 511.45,608.5 511.64,608.17 511.83,607.52 512.02,606.25 512.21,605.02 512.4,605.3 512.58,605.18 512.77,603.8 512.96,603.08 513.14,603.36 513.33,603.44 513.51,601.86 513.7,600.83 513.88,601.59 514.06,602.3 514.25,601.75 514.43,600.41 514.61,600.03 514.79,600.76 514.97,600.62 515.15,599.26 515.33,599.14 515.51,599.59 515.69,599.81 515.87,600.49 516.05,600.88 516.23,600.89 516.4,600.65 516.58,600.68 516.75,601.05 516.93,601.67 517.11,601.69 517.28,601.9 517.45,603.06 517.63,603.75 517.8,603.8 517.97,603.8 518.15,604.53 518.32,605.2 518.49,604.89 518.66,605.03 518.83,606.16 519,606.73 519.17,607.07 519.34,607.83 519.51,608.26 519.68,608.18 519.84,608.73 520.01,609.62 520.18,609.88 520.34,610.23 520.51,609.47 520.68,608.97 520.84,610.54 521.01,611.5 521.17,611.25 521.33,611.36 521.5,612.85 521.66,614.68 521.82,614.84 521.99,613.94 522.15,613.43 522.31,613.88 522.47,614.8 522.63,615.63 522.79,616.09 522.95,616.02 523.11,616.87 523.27,617.99 523.43,617.53 523.59,617.52 523.75,619.44 523.9,621.04 524.06,621.54 524.22,621.61 524.38,621.17 524.53,621.1 524.69,621.6 524.84,621.57 525,621.63 525.15,623.02 525.31,624.94 525.46,625.42 525.61,624.6 525.77,624.48 525.92,624.54 526.07,624.16 526.23,624.88 526.38,626.36 526.53,626.53 526.68,625.9 526.83,625.47 526.98,625.46 527.13,626.97 527.28,627.76 527.43,627.24 527.58,628.07 527.73,628.33 527.88,627.86 528.02,627.35 528.17,626.35 528.32,626.79 528.47,627.93 528.61,627.77 528.76,627.01 528.91,627.91 529.05,628.89 529.2,629.17 529.34,630.36 529.49,630.49 529.63,629.7 529.78,630.06 529.92,630.16 530.06,628.95 530.21,629.14 530.35,630.6 530.49,631.04 530.63,631.38 530.78,631.25 530.92,630.62 531.06,630.97 531.2,631.52 531.34,632.05 531.48,632.18 531.62,631.77 531.76,631.73 531.9,631.74 532.04,632.4 532.18,632.48 532.32,631.68 532.45,632.35 532.59,633.5 532.73,633.44 532.87,632.27 533.01,631.53 533.14,632.46 533.28,634.02 533.42,634.86 533.55,634.73 533.69,634.16 533.82,634.15 533.96,634.09 534.09,633.94 534.23,634.88 534.36,635.19 534.5,634.35 534.63,634.35 534.76,634.61 534.9,634.91 535.03,635.15 535.16,633.73 535.29,632.43 535.43,633.17 535.56,634 535.69,634.13 535.82,634.48 535.95,634.9 536.08,635.5 536.21,635.74 536.34,636.28 536.47,637.33 536.6,636.45 536.73,636.28 536.86,637.82 536.99,637.02 537.12,635.76 537.25,636.13 537.38,636.1 537.51,635.77 537.63,636.98 537.76,638.7 537.89,638.68 538.02,637.8 538.14,637.56 538.27,637.79 538.39,637.2 538.52,637.54 538.65,638.82 538.77,637.71 538.9,636.61 539.02,637.21 539.15,637.82 539.27,637.97 539.4,637.86 539.52,638.27 539.64,638.54 539.77,638.46 539.89,638.87 540.01,639.08 540.14,639.39 540.26,639.52 540.38,638.86 540.51,639.18 540.63,639.9 540.75,640.05 540.87,639.66 540.99,638.52 541.11,637.72 541.23,637.98 541.36,638.9 541.48,639.57 541.6,640.35 541.72,640.66 541.84,639.97 541.96,639.23 542.07,639.18 542.19,639.43 542.31,638.99 542.43,639.33 542.55,640.51 542.67,641.01 542.79,640.42 542.9,639.69 543.02,639.92 543.14,639.76 543.26,639.71 543.37,640.68 543.49,641.04 543.61,640.99 543.72,641.74 543.84,642.45 543.96,642.01 544.07,641.1 544.19,640.24 544.3,640.52 544.42,641.76 544.53,642.03 544.65,641.63 544.76,640.8 544.88,640.58 544.99,640.73 545.1,640.7 545.22,641.66 545.33,642.68 545.45,643.03 545.56,642.72 545.67,641.9 545.78,641.08 545.9,641.06 546.01,642.18 546.12,642.98 546.23,642.96 546.35,642.96 546.46,643.06 546.57,643.26 546.68,643.34 546.79,643.15 546.9,643.13 547.01,643.54 547.12,643.8 547.23,643.06 547.34,642.24 547.45,642.52 547.56,643.62 547.67,644.58 547.78,644.92 547.89,644.76 548,644.28 548.11,644.43 548.22,644.55 548.33,644.17 548.43,644.63 548.54,644.88 548.65,644.11 548.76,642.72 548.87,642.29 548.97,643.52 549.08,644.34 549.19,644.38 549.29,644.33 549.4,643.37 549.51,642.8 549.61,644.1 549.72,644.96 549.83,644.75 549.93,644.54 550.04,644.42 550.14,644.6 550.25,644.31 550.35,643.36 550.46,644.33 550.56,645.59 550.67,645.01 550.77,645.26 550.88,645.65 550.98,645.15 551.09,644.88 551.19,644.84 551.29,644.84 551.4,644.59 551.5,644.59 551.6,644.83 551.71,645.13 551.81,645.63 551.91,645.57 552.01,644.96 552.12,644.93 552.22,644.75 552.32,643.51 552.42,644.02 552.52,645.48 552.63,645.36 552.73,645.33 552.83,645.94 552.93,645.74 553.03,645.3 553.13,645.98 553.23,646.6 553.33,645.9 553.43,644.54 553.53,645.04 553.63,646.84 553.73,646.9 553.83,646.34 553.93,646.64 554.03,647.16 554.13,647.23 554.23,647.06 554.33,646.91 554.43,645.52 554.53,644.75 554.62,645.47 554.72,645.53 554.82,646.15 554.92,647.26 555.02,647.66 555.11,647.65 555.21,646.95 555.31,646.12 555.41,646.22 555.5,647.36 555.6,648.08 555.7,647.04 555.8,645.95 555.89,646.48 555.99,647.97 556.08,648.97 556.18,648.22 556.28,647.52 556.37,647.46 556.47,647.09 556.56,647.78 556.66,648.61 556.76,648.38 556.85,647.59 556.95,647.24 557.04,648.43 557.14,649.28 557.23,648.34 557.32,647 557.42,647.05 557.51,647.69 557.61,647.12 557.7,646.89 557.79,647.8 557.89,648.82 557.98,649.39 558.08,648.86 558.17,647.85 558.26,647.43 558.36,646.86 558.45,646.7 558.54,647.76 558.63,647.79 558.73,647.61 558.82,648.92 558.91,649.46 559,649.14 559.09,648.98 559.19,648.99 559.28,648.83 559.37,648.7 559.46,649.61 559.55,650.46 559.64,650.82 559.73,650.26 559.83,648.79 559.92,648.38 560.01,648.62 560.1,648.29 560.19,648.54 560.28,649.31 560.37,649.24 560.46,648.23 560.55,647.83 560.64,648.72 560.73,648.99 560.82,648.38 560.91,648.16 561,648.29 561.09,648.9 561.18,649.92 561.26,650.73 561.35,651 561.44,649.45 561.53,647.88 561.62,648.6 561.71,649.42 561.8,649.42 561.88,649.99 561.97,650.88 562.06,650.8 562.15,650.13 562.24,650.1 562.32,650.47 562.41,650.55 562.5,650.97 562.58,651.4 562.67,651.22 562.76,650.55 562.85,649.3 562.93,648.67 563.02,649.34 563.11,650.31 563.19,651.22 563.28,651.72 563.36,650.63 563.45,648.97 563.54,648.89 563.62,649.88 563.71,650.48 563.79,650.35 563.88,650.15 563.96,650.18 564.05,650.48 564.14,650.91 564.22,650.92 564.31,650.44 564.39,650.43 564.47,650.69 564.56,650.24 564.64,650.49 564.73,651.11 564.81,650.88 564.9,650.78 564.98,650.79 565.06,650.84 565.15,651.72 565.23,652.04 565.32,651.04 565.4,650.14 565.48,649.69 565.57,650.86 565.65,651.88 565.73,651.14 565.82,650.95 565.9,650.2 565.98,649.01 566.06,650.01 566.15,651.62 566.23,652.24 566.31,652.18 566.39,651.18 566.48,651.03 566.56,651.69 566.64,651.07 566.72,650.28 566.8,650.74 566.88,651.86 566.97,652.57 567.05,652.96 567.13,652.7 567.21,651.75 567.29,650.96 567.37,650.56 567.45,651.07 567.53,652.26 567.62,652.23 567.7,651.05 567.78,651.06 567.86,652.04 567.94,652.83 568.02,652.63 568.1,652.06 568.18,652.07 568.26,651.55 568.34,651.36 568.42,652.51 568.5,653.03 568.58,651.72 568.66,651.13 568.74,652.51 568.81,652.79 568.89,651.65 568.97,651.79 569.05,652.04 569.13,651.56 569.21,651.73 569.29,652.07 569.37,652.55 569.45,652.77 569.52,652.61 569.6,653.37 569.68,653.99 569.76,652.84 569.84,651.24 569.91,650.36 569.99,650.08 570.07,650.34 570.15,650.82 570.23,651.81 570.3,652.48 570.38,652.61 570.46,652.72 570.53,652.47 570.61,652.48 570.69,652.81 570.77,653.1 570.84,652.62 570.92,652.02 571,652.65 571.07,653.08 571.15,652.38 571.23,652.02 571.3,652.92 571.38,654.14 571.45,654.69 571.53,653.86 571.61,652.53 571.68,652.32 571.76,652.13 571.83,651.81 571.91,652.1 571.98,652.6 572.06,653.63 572.14,653.99 572.21,653.09 572.29,652.59 572.36,652.97 572.44,653.58 572.51,652.76 572.59,651.94 572.66,652.88 572.74,652.82 572.81,652.21 572.88,652.76 572.96,653.85 573.03,654.31 573.11,653.51 573.18,652.76 573.26,652.48 573.33,652.95 573.4,653.36 573.48,653.14 573.55,653.45 573.62,653.18 573.7,652.06 573.77,652.05 573.84,652.62 573.92,652.45 573.99,652.3 574.06,652.67 574.14,653.13 574.21,653.2 574.28,652.92 574.36,652.78 574.43,653.21 574.5,653.77 574.57,653.58 574.65,653.55 574.72,654.05 574.79,653.63 574.86,652.98 574.94,653.3 575.01,653.74 575.08,653.89 575.15,653.62 575.22,653.25 575.3,654.16 575.37,655.39 575.44,655 575.51,653.84 575.58,653.64 575.65,654.45 575.72,654.87 575.8,654.61 575.87,654.64 575.94,654.55 576.01,654.31 576.08,654.26 576.15,654.16 576.22,654.43 576.29,654.53 576.36,653.7 576.43,652.43 576.5,651.99 576.57,652.99 576.64,654.13 576.72,653.89 576.79,653.05 576.86,653.68 576.93,654.88 577,654.88 577.07,654.31 577.14,653.56 577.2,653.54 577.27,653.47 577.34,652.86 577.41,652.68 577.48,652.55 577.55,653.42 577.62,653.61 577.69,653.07 577.76,654.05 577.83,654.17 577.9,653.33 577.97,653.55 578.04,654.33 578.1,654.3 578.17,653.09 578.24,652.83 578.31,653.44 578.38,653.85 578.45,654.57 578.52,655.36 578.58,655.46 578.65,654.2 578.72,653.06 578.79,653.02 578.86,653.19 578.92,653.9 578.99,655.24 579.06,655.4 579.13,654.36 579.19,653.75 579.26,653.79 579.33,654.61 579.4,655.03 579.46,654.68 579.53,655.29 579.6,656.03 579.67,655.8 579.73,655.73 579.8,655.81 579.87,654.98 579.93,653.28 580,652.03 580.07,652.71 580.13,653.87 580.2,653.97 580.27,654.13 580.33,654.6 580.4,654.99 580.47,655.5 580.53,655.2 580.6,654.25 580.67,654.37 580.73,654.75 580.8,654.81 580.86,655.13 580.93,655.57 580.99,655.09 581.06,654.05 581.13,654.69 581.19,655.59 581.26,655.29 581.32,655.29 581.39,654.87 581.45,654.58 581.52,655.2 581.58,655.36 581.65,654.99 581.71,654.35 581.78,653.62 581.84,653.51 581.91,653.51 581.97,653.75 582.04,654.28 582.1,654.13 582.17,654.24 582.23,654.55 582.3,654.74 582.36,655.26 582.43,655.45 582.49,654.32 582.55,653.38 582.62,654.19 582.68,654.97 582.75,654.77 582.81,654.59 582.87,654.92 582.94,655.04 583,654.45 583.07,653.75 583.13,654.34 583.19,655.71 583.26,655.88 583.32,655.01 583.38,654.19 583.45,654.22 583.51,654.19 583.57,653.77 583.64,654.02 583.7,653.74 583.76,653.15 583.83,653.51 583.89,654.29 583.95,655.24 584.01,656.66 584.08,657.19 584.14,656.01 584.2,654.57 584.27,654.3 584.33,654.61 584.39,654.38 584.45,653.99 584.51,654.6 584.58,656.16 584.64,656.75 584.7,656.61 584.76,655.78 584.83,654.84 584.89,655.67 584.95,656.37 585.01,655.6 585.07,655.03 585.14,655.11 585.2,654.83 585.26,654.98 585.32,656.46 585.38,657.55 585.44,657.28 585.5,656.01 585.57,654.95 585.63,655.73 585.69,656.31 585.75,655.55 585.81,655.61 585.87,655.7 585.93,654.72 585.99,654.39 586.05,655.25 586.12,656.23 586.18,657.08 586.24,657.09 586.3,655.83 586.36,655.46 586.42,656.05 586.48,654.71 586.54,653.64 586.6,655.79 586.66,656.96 586.72,655.92 586.78,655.86 586.84,655.88 586.9,655.39 586.96,655.15 587.02,654.81 587.08,654.54 587.14,654.62 587.2,655.93 587.26,656.68 587.32,656.11 587.38,656.06 587.44,655.49 587.5,655.64 587.56,656.54 587.62,655.84 587.68,655.46 587.74,656.14 587.8,656.33 587.86,656.6 587.91,656.92 587.97,656.11 588.03,654.89 588.09,654.88 588.15,655.6 588.21,655.83 588.27,655.65 588.33,655.51 588.39,656.2 588.44,656.67 588.5,656.12 588.56,657.03 588.62,657.69 588.68,656.67 588.74,656.5 588.8,656.43 588.85,656.22 588.91,656.17 588.97,655.85 589.03,656.02 589.09,656.55 589.14,656.8 589.2,656.83 589.26,656.76 589.32,655.83 589.38,654.68 589.43,654.68 589.49,655.81 589.55,656.41 589.61,655.43 589.67,654.29 589.72,655.02 589.78,656.83 589.84,656.9 589.9,655.88 589.95,655.77 590.01,656.55 590.07,655.92 590.12,654.28 590.18,655.28 590.24,657.09 590.3,656.3 590.35,655.39 590.41,655.88 590.47,655.9 590.52,656.36 590.58,657.32 590.64,656.7 590.69,655.19 590.75,655.16 590.81,655.78 590.86,655.84 590.92,656.2 590.98,656.28 591.03,656.58 591.09,657 591.15,656.59 591.2,657.34 591.26,658.54 591.31,658.06 591.37,657.42 591.43,657.48 591.48,657.48 591.54,657.94 591.59,657.9 591.65,656.49 591.71,655.86 591.76,656.21 591.82,656.4 591.87,656.47 591.93,656.89 591.98,657.73 592.04,657.76 592.1,656.49 592.15,655.58 592.21,655.33 592.26,655.7 592.32,656.91 592.37,657.29 592.43,656.53 592.48,655.21 592.54,655.01 592.59,655.95 592.65,656.21 592.7,656.73 592.76,657.3 592.81,657.28 592.87,656.74 592.92,655.6 592.98,655.16 593.03,655.38 593.09,656.7 593.14,657.79 593.2,656.78 593.25,657.05 593.31,658.18 593.36,656.99 593.41,655.25 593.47,655.43 593.52,656.46 593.58,656.3 593.63,656.15 593.69,656.7 593.74,656.67 593.79,656.13 593.85,655.78 593.9,656.09 593.96,657.11" stroke="#fde725"/>
</g>
<line x1="96.5" y1="475.8" x2="96.5" y2="682.2" stroke="#000" stroke-width="2.2"/>
<line x1="95.5" y1="681.2" x2="594.3" y2="681.2" stroke="#000" stroke-width="2.2"/>
<line x1="88" y1="476.8" x2="96.5" y2="476.8" stroke="#000" stroke-width="2.2"/>
<text x="0" y="0" text-anchor="end" font-size="19" font-weight="normal" transform="translate(78.5 483.6) scale(1.0 1.02)">0</text>
<line x1="88" y1="544.93" x2="96.5" y2="544.93" stroke="#000" stroke-width="2.2"/>
<text x="0" y="0" text-anchor="end" font-size="19" font-weight="normal" transform="translate(78.5 551.73) scale(1.0 1.02)">−20</text>
<line x1="88" y1="613.07" x2="96.5" y2="613.07" stroke="#000" stroke-width="2.2"/>
<text x="0" y="0" text-anchor="end" font-size="19" font-weight="normal" transform="translate(78.5 619.87) scale(1.0 1.02)">−40</text>
<line x1="88" y1="681.2" x2="96.5" y2="681.2" stroke="#000" stroke-width="2.2"/>
<text x="0" y="0" text-anchor="end" font-size="19" font-weight="normal" transform="translate(78.5 688) scale(1.0 1.02)">−60</text>
<line x1="96.5" y1="681.2" x2="96.5" y2="689.3" stroke="#000" stroke-width="2.2"/>
<text x="0" y="0" text-anchor="middle" font-size="19" font-weight="normal" transform="translate(96.5 712.8) scale(1.0 1.02)">0.01</text>
<line x1="168.31" y1="681.2" x2="168.31" y2="689.3" stroke="#000" stroke-width="2.2"/>
<text x="0" y="0" text-anchor="middle" font-size="19" font-weight="normal" transform="translate(168.31 712.8) scale(1.0 1.02)">0.03</text>
<line x1="247" y1="681.2" x2="247" y2="689.3" stroke="#000" stroke-width="2.2"/>
<text x="0" y="0" text-anchor="middle" font-size="19" font-weight="normal" transform="translate(247 712.8) scale(1.0 1.02)">0.1</text>
<line x1="318.81" y1="681.2" x2="318.81" y2="689.3" stroke="#000" stroke-width="2.2"/>
<text x="0" y="0" text-anchor="middle" font-size="19" font-weight="normal" transform="translate(318.81 712.8) scale(1.0 1.02)">0.3</text>
<line x1="397.5" y1="681.2" x2="397.5" y2="689.3" stroke="#000" stroke-width="2.2"/>
<text x="0" y="0" text-anchor="middle" font-size="19" font-weight="normal" transform="translate(397.5 712.8) scale(1.0 1.02)">1</text>
<line x1="469.31" y1="681.2" x2="469.31" y2="689.3" stroke="#000" stroke-width="2.2"/>
<text x="0" y="0" text-anchor="middle" font-size="19" font-weight="normal" transform="translate(469.31 712.8) scale(1.0 1.02)">3</text>
<line x1="548" y1="681.2" x2="548" y2="689.3" stroke="#000" stroke-width="2.2"/>
<text x="0" y="0" text-anchor="middle" font-size="19" font-weight="normal" transform="translate(548 712.8) scale(1.0 1.02)">10</text>
<line x1="593.31" y1="681.2" x2="593.31" y2="689.3" stroke="#000" stroke-width="2.2"/>
<text x="0" y="0" text-anchor="middle" font-size="19" font-weight="normal" transform="translate(593.31 712.8) scale(1.0 1.02)">20</text>
<text x="0" y="0" text-anchor="middle" font-size="19" font-weight="normal" transform="translate(344.5 741) scale(1.0 1.02)">Frequency [Hz]</text>
<text x="0" y="0" text-anchor="middle" font-size="19" font-weight="normal" transform="translate(31.8 579.3) rotate(-90) scale(1.0 1.02)">Power [dB]</text>
<line x1="102.7" y1="562.1" x2="143" y2="562.1" stroke="#440154" stroke-width="3"/>
<text x="0" y="0" text-anchor="start" font-size="19" font-weight="normal" transform="translate(157.2 568.8) scale(1.0 1.02)">D=0.0</text>
<line x1="102.7" y1="589" x2="143" y2="589" stroke="#3b528b" stroke-width="3"/>
<text x="0" y="0" text-anchor="start" font-size="19" font-weight="normal" transform="translate(157.2 595.7) scale(1.0 1.02)">D=1.0</text>
<line x1="102.7" y1="615.9" x2="143" y2="615.9" stroke="#21918c" stroke-width="3"/>
<text x="0" y="0" text-anchor="start" font-size="19" font-weight="normal" transform="translate(157.2 622.6) scale(1.0 1.02)">D=2.0</text>
<line x1="102.7" y1="642.8" x2="143" y2="642.8" stroke="#5ec962" stroke-width="3"/>
<text x="0" y="0" text-anchor="start" font-size="19" font-weight="normal" transform="translate(157.2 649.5) scale(1.0 1.02)">D=3.0</text>
<line x1="102.7" y1="669.7" x2="143" y2="669.7" stroke="#fde725" stroke-width="3"/>
<text x="0" y="0" text-anchor="start" font-size="19" font-weight="normal" transform="translate(157.2 676.4) scale(1.0 1.02)">D=4.0</text></svg></body></html>
